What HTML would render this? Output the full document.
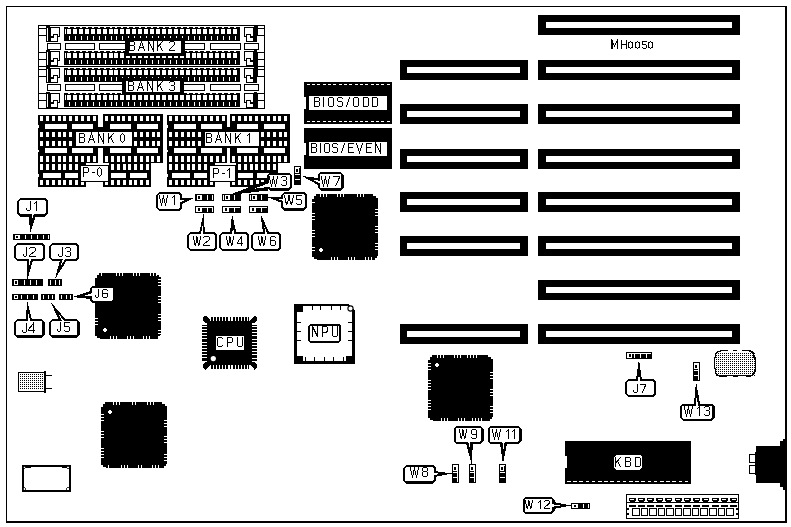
<!DOCTYPE html>
<html><head><meta charset="utf-8"><style>
html,body{margin:0;padding:0;background:#fff;overflow:hidden;}
svg{display:block;}
text{font-family:"Liberation Sans",sans-serif;}
</style></head><body>
<svg width="791" height="527" viewBox="0 0 791 527">
<rect x="0" y="0" width="791" height="527" fill="#fff"/>
<g shape-rendering="crispEdges">
<rect x="6" y="6" width="780" height="1" fill="#000"/>
<rect x="6" y="6" width="1" height="516" fill="#000"/>
<rect x="785" y="6" width="2" height="517" fill="#000"/>
<rect x="6" y="521" width="781" height="2" fill="#000"/>
<rect x="538" y="15" width="202" height="20" fill="#000"/>
<rect x="546" y="22" width="186" height="6" fill="#fff"/>
<rect x="538" y="60" width="202" height="20" fill="#000"/>
<rect x="546" y="67" width="186" height="6" fill="#fff"/>
<rect x="400" y="60" width="128" height="20" fill="#000"/>
<rect x="407" y="67" width="113" height="6" fill="#fff"/>
<rect x="538" y="104" width="202" height="20" fill="#000"/>
<rect x="546" y="111" width="186" height="6" fill="#fff"/>
<rect x="400" y="104" width="128" height="20" fill="#000"/>
<rect x="407" y="111" width="113" height="6" fill="#fff"/>
<rect x="538" y="149" width="202" height="20" fill="#000"/>
<rect x="546" y="156" width="186" height="6" fill="#fff"/>
<rect x="400" y="149" width="128" height="20" fill="#000"/>
<rect x="407" y="156" width="113" height="6" fill="#fff"/>
<rect x="538" y="192" width="202" height="20" fill="#000"/>
<rect x="546" y="199" width="186" height="6" fill="#fff"/>
<rect x="400" y="192" width="128" height="20" fill="#000"/>
<rect x="407" y="199" width="113" height="6" fill="#fff"/>
<rect x="538" y="236" width="202" height="20" fill="#000"/>
<rect x="546" y="243" width="186" height="6" fill="#fff"/>
<rect x="400" y="236" width="128" height="20" fill="#000"/>
<rect x="407" y="243" width="113" height="6" fill="#fff"/>
<rect x="538" y="280" width="202" height="20" fill="#000"/>
<rect x="546" y="287" width="186" height="6" fill="#fff"/>
<rect x="538" y="324" width="202" height="20" fill="#000"/>
<rect x="546" y="331" width="186" height="6" fill="#fff"/>
<rect x="400" y="324" width="128" height="20" fill="#000"/>
<rect x="407" y="331" width="113" height="6" fill="#fff"/>
<rect x="38" y="25" width="227" height="1" fill="#000"/>
<rect x="38" y="66" width="227" height="1" fill="#000"/>
<rect x="38" y="25" width="1" height="42" fill="#000"/>
<rect x="264" y="25" width="1" height="42" fill="#000"/>
<rect x="38" y="25" width="9" height="1" fill="#000"/>
<rect x="38" y="28" width="9" height="1" fill="#000"/>
<rect x="38" y="25" width="1" height="4" fill="#000"/>
<rect x="46" y="25" width="1" height="4" fill="#000"/>
<rect x="38" y="28" width="9" height="1" fill="#000"/>
<rect x="38" y="35" width="9" height="1" fill="#000"/>
<rect x="38" y="28" width="1" height="8" fill="#000"/>
<rect x="46" y="28" width="1" height="8" fill="#000"/>
<rect x="38" y="52" width="9" height="1" fill="#000"/>
<rect x="38" y="59" width="9" height="1" fill="#000"/>
<rect x="38" y="52" width="1" height="8" fill="#000"/>
<rect x="46" y="52" width="1" height="8" fill="#000"/>
<rect x="38" y="59" width="9" height="1" fill="#000"/>
<rect x="38" y="66" width="9" height="1" fill="#000"/>
<rect x="38" y="59" width="1" height="8" fill="#000"/>
<rect x="46" y="59" width="1" height="8" fill="#000"/>
<rect x="257" y="25" width="8" height="1" fill="#000"/>
<rect x="257" y="28" width="8" height="1" fill="#000"/>
<rect x="257" y="25" width="1" height="4" fill="#000"/>
<rect x="264" y="25" width="1" height="4" fill="#000"/>
<rect x="257" y="28" width="8" height="1" fill="#000"/>
<rect x="257" y="35" width="8" height="1" fill="#000"/>
<rect x="257" y="28" width="1" height="8" fill="#000"/>
<rect x="264" y="28" width="1" height="8" fill="#000"/>
<rect x="257" y="52" width="8" height="1" fill="#000"/>
<rect x="257" y="59" width="8" height="1" fill="#000"/>
<rect x="257" y="52" width="1" height="8" fill="#000"/>
<rect x="264" y="52" width="1" height="8" fill="#000"/>
<rect x="257" y="59" width="8" height="1" fill="#000"/>
<rect x="257" y="66" width="8" height="1" fill="#000"/>
<rect x="257" y="59" width="1" height="8" fill="#000"/>
<rect x="264" y="59" width="1" height="8" fill="#000"/>
<rect x="46" y="26" width="4" height="16" fill="#000"/>
<rect x="47" y="28" width="1" height="13" fill="#fff"/>
<rect x="50" y="27" width="10" height="1" fill="#000"/>
<rect x="50" y="36" width="10" height="1" fill="#000"/>
<rect x="50" y="27" width="1" height="10" fill="#000"/>
<rect x="59" y="27" width="1" height="10" fill="#000"/>
<path d="M50 37 H53 V34 H58 V42 H50 Z" fill="#000"/>
<path d="M51 38 H54 V35 H57 V41 H51 Z" fill="#fff"/>
<rect x="254" y="26" width="3" height="16" fill="#000"/>
<rect x="244" y="27" width="10" height="1" fill="#000"/>
<rect x="244" y="36" width="10" height="1" fill="#000"/>
<rect x="244" y="27" width="1" height="10" fill="#000"/>
<rect x="253" y="27" width="1" height="10" fill="#000"/>
<path d="M254 37 H251 V34 H246 V42 H254 Z" fill="#000"/>
<path d="M253 38 H250 V35 H247 V41 H253 Z" fill="#fff"/>
<rect x="64" y="27" width="176" height="14" fill="#000"/>
<rect x="65" y="29" width="1" height="5" fill="#fff"/>
<rect x="67" y="29" width="4" height="5" fill="#fff"/>
<rect x="69" y="36" width="1" height="4" fill="#fff"/>
<rect x="68" y="27" width="2" height="1" fill="#fff"/>
<rect x="73" y="29" width="4" height="5" fill="#fff"/>
<rect x="75" y="36" width="1" height="4" fill="#fff"/>
<rect x="74" y="27" width="2" height="1" fill="#fff"/>
<rect x="79" y="29" width="4" height="5" fill="#fff"/>
<rect x="81" y="36" width="1" height="4" fill="#fff"/>
<rect x="80" y="27" width="2" height="1" fill="#fff"/>
<rect x="85" y="29" width="4" height="5" fill="#fff"/>
<rect x="87" y="36" width="1" height="4" fill="#fff"/>
<rect x="86" y="27" width="2" height="1" fill="#fff"/>
<rect x="91" y="29" width="4" height="5" fill="#fff"/>
<rect x="93" y="36" width="1" height="4" fill="#fff"/>
<rect x="92" y="27" width="2" height="1" fill="#fff"/>
<rect x="97" y="29" width="4" height="5" fill="#fff"/>
<rect x="99" y="36" width="1" height="4" fill="#fff"/>
<rect x="98" y="27" width="2" height="1" fill="#fff"/>
<rect x="103" y="29" width="4" height="5" fill="#fff"/>
<rect x="105" y="36" width="1" height="4" fill="#fff"/>
<rect x="104" y="27" width="2" height="1" fill="#fff"/>
<rect x="109" y="29" width="4" height="5" fill="#fff"/>
<rect x="111" y="36" width="1" height="4" fill="#fff"/>
<rect x="110" y="27" width="2" height="1" fill="#fff"/>
<rect x="114" y="29" width="4" height="5" fill="#fff"/>
<rect x="116" y="36" width="1" height="4" fill="#fff"/>
<rect x="115" y="27" width="2" height="1" fill="#fff"/>
<rect x="120" y="29" width="4" height="5" fill="#fff"/>
<rect x="122" y="36" width="1" height="4" fill="#fff"/>
<rect x="121" y="27" width="2" height="1" fill="#fff"/>
<rect x="126" y="29" width="4" height="5" fill="#fff"/>
<rect x="128" y="36" width="1" height="4" fill="#fff"/>
<rect x="127" y="27" width="2" height="1" fill="#fff"/>
<rect x="132" y="29" width="4" height="5" fill="#fff"/>
<rect x="134" y="36" width="1" height="4" fill="#fff"/>
<rect x="133" y="27" width="2" height="1" fill="#fff"/>
<rect x="138" y="29" width="4" height="5" fill="#fff"/>
<rect x="140" y="36" width="1" height="4" fill="#fff"/>
<rect x="139" y="27" width="2" height="1" fill="#fff"/>
<rect x="144" y="29" width="4" height="5" fill="#fff"/>
<rect x="146" y="36" width="1" height="4" fill="#fff"/>
<rect x="145" y="27" width="2" height="1" fill="#fff"/>
<rect x="150" y="29" width="4" height="5" fill="#fff"/>
<rect x="152" y="36" width="1" height="4" fill="#fff"/>
<rect x="151" y="27" width="2" height="1" fill="#fff"/>
<rect x="156" y="29" width="4" height="5" fill="#fff"/>
<rect x="158" y="36" width="1" height="4" fill="#fff"/>
<rect x="157" y="27" width="2" height="1" fill="#fff"/>
<rect x="162" y="29" width="4" height="5" fill="#fff"/>
<rect x="164" y="36" width="1" height="4" fill="#fff"/>
<rect x="163" y="27" width="2" height="1" fill="#fff"/>
<rect x="168" y="29" width="4" height="5" fill="#fff"/>
<rect x="170" y="36" width="1" height="4" fill="#fff"/>
<rect x="169" y="27" width="2" height="1" fill="#fff"/>
<rect x="174" y="29" width="4" height="5" fill="#fff"/>
<rect x="176" y="36" width="1" height="4" fill="#fff"/>
<rect x="175" y="27" width="2" height="1" fill="#fff"/>
<rect x="180" y="29" width="4" height="5" fill="#fff"/>
<rect x="182" y="36" width="1" height="4" fill="#fff"/>
<rect x="181" y="27" width="2" height="1" fill="#fff"/>
<rect x="186" y="29" width="4" height="5" fill="#fff"/>
<rect x="188" y="36" width="1" height="4" fill="#fff"/>
<rect x="187" y="27" width="2" height="1" fill="#fff"/>
<rect x="192" y="29" width="4" height="5" fill="#fff"/>
<rect x="194" y="36" width="1" height="4" fill="#fff"/>
<rect x="193" y="27" width="2" height="1" fill="#fff"/>
<rect x="197" y="29" width="4" height="5" fill="#fff"/>
<rect x="199" y="36" width="1" height="4" fill="#fff"/>
<rect x="198" y="27" width="2" height="1" fill="#fff"/>
<rect x="203" y="29" width="4" height="5" fill="#fff"/>
<rect x="205" y="36" width="1" height="4" fill="#fff"/>
<rect x="204" y="27" width="2" height="1" fill="#fff"/>
<rect x="209" y="29" width="4" height="5" fill="#fff"/>
<rect x="211" y="36" width="1" height="4" fill="#fff"/>
<rect x="210" y="27" width="2" height="1" fill="#fff"/>
<rect x="215" y="29" width="4" height="5" fill="#fff"/>
<rect x="217" y="36" width="1" height="4" fill="#fff"/>
<rect x="216" y="27" width="2" height="1" fill="#fff"/>
<rect x="221" y="29" width="4" height="5" fill="#fff"/>
<rect x="223" y="36" width="1" height="4" fill="#fff"/>
<rect x="222" y="27" width="2" height="1" fill="#fff"/>
<rect x="227" y="29" width="4" height="5" fill="#fff"/>
<rect x="229" y="36" width="1" height="4" fill="#fff"/>
<rect x="228" y="27" width="2" height="1" fill="#fff"/>
<rect x="233" y="29" width="4" height="5" fill="#fff"/>
<rect x="235" y="36" width="1" height="4" fill="#fff"/>
<rect x="234" y="27" width="2" height="1" fill="#fff"/>
<rect x="46" y="50" width="4" height="16" fill="#000"/>
<rect x="47" y="52" width="1" height="13" fill="#fff"/>
<rect x="50" y="51" width="10" height="1" fill="#000"/>
<rect x="50" y="60" width="10" height="1" fill="#000"/>
<rect x="50" y="51" width="1" height="10" fill="#000"/>
<rect x="59" y="51" width="1" height="10" fill="#000"/>
<path d="M50 61 H53 V58 H58 V66 H50 Z" fill="#000"/>
<path d="M51 62 H54 V59 H57 V65 H51 Z" fill="#fff"/>
<rect x="254" y="50" width="3" height="16" fill="#000"/>
<rect x="244" y="51" width="10" height="1" fill="#000"/>
<rect x="244" y="60" width="10" height="1" fill="#000"/>
<rect x="244" y="51" width="1" height="10" fill="#000"/>
<rect x="253" y="51" width="1" height="10" fill="#000"/>
<path d="M254 61 H251 V58 H246 V66 H254 Z" fill="#000"/>
<path d="M253 62 H250 V59 H247 V65 H253 Z" fill="#fff"/>
<rect x="64" y="51" width="176" height="14" fill="#000"/>
<rect x="65" y="53" width="1" height="5" fill="#fff"/>
<rect x="67" y="53" width="4" height="5" fill="#fff"/>
<rect x="69" y="60" width="1" height="4" fill="#fff"/>
<rect x="68" y="51" width="2" height="1" fill="#fff"/>
<rect x="73" y="53" width="4" height="5" fill="#fff"/>
<rect x="75" y="60" width="1" height="4" fill="#fff"/>
<rect x="74" y="51" width="2" height="1" fill="#fff"/>
<rect x="79" y="53" width="4" height="5" fill="#fff"/>
<rect x="81" y="60" width="1" height="4" fill="#fff"/>
<rect x="80" y="51" width="2" height="1" fill="#fff"/>
<rect x="85" y="53" width="4" height="5" fill="#fff"/>
<rect x="87" y="60" width="1" height="4" fill="#fff"/>
<rect x="86" y="51" width="2" height="1" fill="#fff"/>
<rect x="91" y="53" width="4" height="5" fill="#fff"/>
<rect x="93" y="60" width="1" height="4" fill="#fff"/>
<rect x="92" y="51" width="2" height="1" fill="#fff"/>
<rect x="97" y="53" width="4" height="5" fill="#fff"/>
<rect x="99" y="60" width="1" height="4" fill="#fff"/>
<rect x="98" y="51" width="2" height="1" fill="#fff"/>
<rect x="103" y="53" width="4" height="5" fill="#fff"/>
<rect x="105" y="60" width="1" height="4" fill="#fff"/>
<rect x="104" y="51" width="2" height="1" fill="#fff"/>
<rect x="109" y="53" width="4" height="5" fill="#fff"/>
<rect x="111" y="60" width="1" height="4" fill="#fff"/>
<rect x="110" y="51" width="2" height="1" fill="#fff"/>
<rect x="114" y="53" width="4" height="5" fill="#fff"/>
<rect x="116" y="60" width="1" height="4" fill="#fff"/>
<rect x="115" y="51" width="2" height="1" fill="#fff"/>
<rect x="120" y="53" width="4" height="5" fill="#fff"/>
<rect x="122" y="60" width="1" height="4" fill="#fff"/>
<rect x="121" y="51" width="2" height="1" fill="#fff"/>
<rect x="126" y="53" width="4" height="5" fill="#fff"/>
<rect x="128" y="60" width="1" height="4" fill="#fff"/>
<rect x="127" y="51" width="2" height="1" fill="#fff"/>
<rect x="132" y="53" width="4" height="5" fill="#fff"/>
<rect x="134" y="60" width="1" height="4" fill="#fff"/>
<rect x="133" y="51" width="2" height="1" fill="#fff"/>
<rect x="138" y="53" width="4" height="5" fill="#fff"/>
<rect x="140" y="60" width="1" height="4" fill="#fff"/>
<rect x="139" y="51" width="2" height="1" fill="#fff"/>
<rect x="144" y="53" width="4" height="5" fill="#fff"/>
<rect x="146" y="60" width="1" height="4" fill="#fff"/>
<rect x="145" y="51" width="2" height="1" fill="#fff"/>
<rect x="150" y="53" width="4" height="5" fill="#fff"/>
<rect x="152" y="60" width="1" height="4" fill="#fff"/>
<rect x="151" y="51" width="2" height="1" fill="#fff"/>
<rect x="156" y="53" width="4" height="5" fill="#fff"/>
<rect x="158" y="60" width="1" height="4" fill="#fff"/>
<rect x="157" y="51" width="2" height="1" fill="#fff"/>
<rect x="162" y="53" width="4" height="5" fill="#fff"/>
<rect x="164" y="60" width="1" height="4" fill="#fff"/>
<rect x="163" y="51" width="2" height="1" fill="#fff"/>
<rect x="168" y="53" width="4" height="5" fill="#fff"/>
<rect x="170" y="60" width="1" height="4" fill="#fff"/>
<rect x="169" y="51" width="2" height="1" fill="#fff"/>
<rect x="174" y="53" width="4" height="5" fill="#fff"/>
<rect x="176" y="60" width="1" height="4" fill="#fff"/>
<rect x="175" y="51" width="2" height="1" fill="#fff"/>
<rect x="180" y="53" width="4" height="5" fill="#fff"/>
<rect x="182" y="60" width="1" height="4" fill="#fff"/>
<rect x="181" y="51" width="2" height="1" fill="#fff"/>
<rect x="186" y="53" width="4" height="5" fill="#fff"/>
<rect x="188" y="60" width="1" height="4" fill="#fff"/>
<rect x="187" y="51" width="2" height="1" fill="#fff"/>
<rect x="192" y="53" width="4" height="5" fill="#fff"/>
<rect x="194" y="60" width="1" height="4" fill="#fff"/>
<rect x="193" y="51" width="2" height="1" fill="#fff"/>
<rect x="197" y="53" width="4" height="5" fill="#fff"/>
<rect x="199" y="60" width="1" height="4" fill="#fff"/>
<rect x="198" y="51" width="2" height="1" fill="#fff"/>
<rect x="203" y="53" width="4" height="5" fill="#fff"/>
<rect x="205" y="60" width="1" height="4" fill="#fff"/>
<rect x="204" y="51" width="2" height="1" fill="#fff"/>
<rect x="209" y="53" width="4" height="5" fill="#fff"/>
<rect x="211" y="60" width="1" height="4" fill="#fff"/>
<rect x="210" y="51" width="2" height="1" fill="#fff"/>
<rect x="215" y="53" width="4" height="5" fill="#fff"/>
<rect x="217" y="60" width="1" height="4" fill="#fff"/>
<rect x="216" y="51" width="2" height="1" fill="#fff"/>
<rect x="221" y="53" width="4" height="5" fill="#fff"/>
<rect x="223" y="60" width="1" height="4" fill="#fff"/>
<rect x="222" y="51" width="2" height="1" fill="#fff"/>
<rect x="227" y="53" width="4" height="5" fill="#fff"/>
<rect x="229" y="60" width="1" height="4" fill="#fff"/>
<rect x="228" y="51" width="2" height="1" fill="#fff"/>
<rect x="233" y="53" width="4" height="5" fill="#fff"/>
<rect x="235" y="60" width="1" height="4" fill="#fff"/>
<rect x="234" y="51" width="2" height="1" fill="#fff"/>
<rect x="47" y="43" width="14" height="1" fill="#000"/>
<rect x="47" y="49" width="14" height="1" fill="#000"/>
<rect x="47" y="43" width="1" height="7" fill="#000"/>
<rect x="60" y="43" width="1" height="7" fill="#000"/>
<rect x="64.5" y="43" width="30.5" height="1" fill="#000"/>
<rect x="64.5" y="49" width="30.5" height="1" fill="#000"/>
<rect x="64.5" y="43" width="1" height="7" fill="#000"/>
<rect x="94" y="43" width="1" height="7" fill="#000"/>
<rect x="99" y="43" width="31" height="1" fill="#000"/>
<rect x="99" y="49" width="31" height="1" fill="#000"/>
<rect x="99" y="43" width="1" height="7" fill="#000"/>
<rect x="129" y="43" width="1" height="7" fill="#000"/>
<rect x="135" y="43" width="31" height="1" fill="#000"/>
<rect x="135" y="49" width="31" height="1" fill="#000"/>
<rect x="135" y="43" width="1" height="7" fill="#000"/>
<rect x="165" y="43" width="1" height="7" fill="#000"/>
<rect x="171" y="43" width="33.5" height="1" fill="#000"/>
<rect x="171" y="49" width="33.5" height="1" fill="#000"/>
<rect x="171" y="43" width="1" height="7" fill="#000"/>
<rect x="203.5" y="43" width="1" height="7" fill="#000"/>
<rect x="210" y="43" width="31" height="1" fill="#000"/>
<rect x="210" y="49" width="31" height="1" fill="#000"/>
<rect x="210" y="43" width="1" height="7" fill="#000"/>
<rect x="240" y="43" width="1" height="7" fill="#000"/>
<rect x="244" y="43" width="15" height="1" fill="#000"/>
<rect x="244" y="49" width="15" height="1" fill="#000"/>
<rect x="244" y="43" width="1" height="7" fill="#000"/>
<rect x="258" y="43" width="1" height="7" fill="#000"/>
<rect x="124.5" y="37.5" width="60" height="18" fill="#000"/>
<path d="M128.5 38.5 H180.5 L182.5 40.5 V52.5 L180.5 54.5 H128.5 L126.5 52.5 V40.5 Z" fill="#000"/>
<path d="M128.5 40.5 H180.5 V52.5 H128.5 Z" fill="#fff"/>
<rect x="38" y="66" width="227" height="1" fill="#000"/>
<rect x="38" y="108" width="227" height="1" fill="#000"/>
<rect x="38" y="66" width="1" height="43" fill="#000"/>
<rect x="264" y="66" width="1" height="43" fill="#000"/>
<rect x="38" y="66" width="9" height="1" fill="#000"/>
<rect x="38" y="69" width="9" height="1" fill="#000"/>
<rect x="38" y="66" width="1" height="4" fill="#000"/>
<rect x="46" y="66" width="1" height="4" fill="#000"/>
<rect x="38" y="69" width="9" height="1" fill="#000"/>
<rect x="38" y="76" width="9" height="1" fill="#000"/>
<rect x="38" y="69" width="1" height="8" fill="#000"/>
<rect x="46" y="69" width="1" height="8" fill="#000"/>
<rect x="38" y="93" width="9" height="1" fill="#000"/>
<rect x="38" y="100" width="9" height="1" fill="#000"/>
<rect x="38" y="93" width="1" height="8" fill="#000"/>
<rect x="46" y="93" width="1" height="8" fill="#000"/>
<rect x="38" y="100" width="9" height="1" fill="#000"/>
<rect x="38" y="108" width="9" height="1" fill="#000"/>
<rect x="38" y="100" width="1" height="9" fill="#000"/>
<rect x="46" y="100" width="1" height="9" fill="#000"/>
<rect x="257" y="66" width="8" height="1" fill="#000"/>
<rect x="257" y="69" width="8" height="1" fill="#000"/>
<rect x="257" y="66" width="1" height="4" fill="#000"/>
<rect x="264" y="66" width="1" height="4" fill="#000"/>
<rect x="257" y="69" width="8" height="1" fill="#000"/>
<rect x="257" y="76" width="8" height="1" fill="#000"/>
<rect x="257" y="69" width="1" height="8" fill="#000"/>
<rect x="264" y="69" width="1" height="8" fill="#000"/>
<rect x="257" y="93" width="8" height="1" fill="#000"/>
<rect x="257" y="100" width="8" height="1" fill="#000"/>
<rect x="257" y="93" width="1" height="8" fill="#000"/>
<rect x="264" y="93" width="1" height="8" fill="#000"/>
<rect x="257" y="100" width="8" height="1" fill="#000"/>
<rect x="257" y="108" width="8" height="1" fill="#000"/>
<rect x="257" y="100" width="1" height="9" fill="#000"/>
<rect x="264" y="100" width="1" height="9" fill="#000"/>
<rect x="46" y="67" width="4" height="16" fill="#000"/>
<rect x="47" y="69" width="1" height="13" fill="#fff"/>
<rect x="50" y="68" width="10" height="1" fill="#000"/>
<rect x="50" y="77" width="10" height="1" fill="#000"/>
<rect x="50" y="68" width="1" height="10" fill="#000"/>
<rect x="59" y="68" width="1" height="10" fill="#000"/>
<path d="M50 78 H53 V75 H58 V83 H50 Z" fill="#000"/>
<path d="M51 79 H54 V76 H57 V82 H51 Z" fill="#fff"/>
<rect x="254" y="67" width="3" height="16" fill="#000"/>
<rect x="244" y="68" width="10" height="1" fill="#000"/>
<rect x="244" y="77" width="10" height="1" fill="#000"/>
<rect x="244" y="68" width="1" height="10" fill="#000"/>
<rect x="253" y="68" width="1" height="10" fill="#000"/>
<path d="M254 78 H251 V75 H246 V83 H254 Z" fill="#000"/>
<path d="M253 79 H250 V76 H247 V82 H253 Z" fill="#fff"/>
<rect x="64" y="68" width="176" height="14" fill="#000"/>
<rect x="65" y="70" width="1" height="5" fill="#fff"/>
<rect x="67" y="70" width="4" height="5" fill="#fff"/>
<rect x="69" y="77" width="1" height="4" fill="#fff"/>
<rect x="68" y="68" width="2" height="1" fill="#fff"/>
<rect x="73" y="70" width="4" height="5" fill="#fff"/>
<rect x="75" y="77" width="1" height="4" fill="#fff"/>
<rect x="74" y="68" width="2" height="1" fill="#fff"/>
<rect x="79" y="70" width="4" height="5" fill="#fff"/>
<rect x="81" y="77" width="1" height="4" fill="#fff"/>
<rect x="80" y="68" width="2" height="1" fill="#fff"/>
<rect x="85" y="70" width="4" height="5" fill="#fff"/>
<rect x="87" y="77" width="1" height="4" fill="#fff"/>
<rect x="86" y="68" width="2" height="1" fill="#fff"/>
<rect x="91" y="70" width="4" height="5" fill="#fff"/>
<rect x="93" y="77" width="1" height="4" fill="#fff"/>
<rect x="92" y="68" width="2" height="1" fill="#fff"/>
<rect x="97" y="70" width="4" height="5" fill="#fff"/>
<rect x="99" y="77" width="1" height="4" fill="#fff"/>
<rect x="98" y="68" width="2" height="1" fill="#fff"/>
<rect x="103" y="70" width="4" height="5" fill="#fff"/>
<rect x="105" y="77" width="1" height="4" fill="#fff"/>
<rect x="104" y="68" width="2" height="1" fill="#fff"/>
<rect x="109" y="70" width="4" height="5" fill="#fff"/>
<rect x="111" y="77" width="1" height="4" fill="#fff"/>
<rect x="110" y="68" width="2" height="1" fill="#fff"/>
<rect x="114" y="70" width="4" height="5" fill="#fff"/>
<rect x="116" y="77" width="1" height="4" fill="#fff"/>
<rect x="115" y="68" width="2" height="1" fill="#fff"/>
<rect x="120" y="70" width="4" height="5" fill="#fff"/>
<rect x="122" y="77" width="1" height="4" fill="#fff"/>
<rect x="121" y="68" width="2" height="1" fill="#fff"/>
<rect x="126" y="70" width="4" height="5" fill="#fff"/>
<rect x="128" y="77" width="1" height="4" fill="#fff"/>
<rect x="127" y="68" width="2" height="1" fill="#fff"/>
<rect x="132" y="70" width="4" height="5" fill="#fff"/>
<rect x="134" y="77" width="1" height="4" fill="#fff"/>
<rect x="133" y="68" width="2" height="1" fill="#fff"/>
<rect x="138" y="70" width="4" height="5" fill="#fff"/>
<rect x="140" y="77" width="1" height="4" fill="#fff"/>
<rect x="139" y="68" width="2" height="1" fill="#fff"/>
<rect x="144" y="70" width="4" height="5" fill="#fff"/>
<rect x="146" y="77" width="1" height="4" fill="#fff"/>
<rect x="145" y="68" width="2" height="1" fill="#fff"/>
<rect x="150" y="70" width="4" height="5" fill="#fff"/>
<rect x="152" y="77" width="1" height="4" fill="#fff"/>
<rect x="151" y="68" width="2" height="1" fill="#fff"/>
<rect x="156" y="70" width="4" height="5" fill="#fff"/>
<rect x="158" y="77" width="1" height="4" fill="#fff"/>
<rect x="157" y="68" width="2" height="1" fill="#fff"/>
<rect x="162" y="70" width="4" height="5" fill="#fff"/>
<rect x="164" y="77" width="1" height="4" fill="#fff"/>
<rect x="163" y="68" width="2" height="1" fill="#fff"/>
<rect x="168" y="70" width="4" height="5" fill="#fff"/>
<rect x="170" y="77" width="1" height="4" fill="#fff"/>
<rect x="169" y="68" width="2" height="1" fill="#fff"/>
<rect x="174" y="70" width="4" height="5" fill="#fff"/>
<rect x="176" y="77" width="1" height="4" fill="#fff"/>
<rect x="175" y="68" width="2" height="1" fill="#fff"/>
<rect x="180" y="70" width="4" height="5" fill="#fff"/>
<rect x="182" y="77" width="1" height="4" fill="#fff"/>
<rect x="181" y="68" width="2" height="1" fill="#fff"/>
<rect x="186" y="70" width="4" height="5" fill="#fff"/>
<rect x="188" y="77" width="1" height="4" fill="#fff"/>
<rect x="187" y="68" width="2" height="1" fill="#fff"/>
<rect x="192" y="70" width="4" height="5" fill="#fff"/>
<rect x="194" y="77" width="1" height="4" fill="#fff"/>
<rect x="193" y="68" width="2" height="1" fill="#fff"/>
<rect x="197" y="70" width="4" height="5" fill="#fff"/>
<rect x="199" y="77" width="1" height="4" fill="#fff"/>
<rect x="198" y="68" width="2" height="1" fill="#fff"/>
<rect x="203" y="70" width="4" height="5" fill="#fff"/>
<rect x="205" y="77" width="1" height="4" fill="#fff"/>
<rect x="204" y="68" width="2" height="1" fill="#fff"/>
<rect x="209" y="70" width="4" height="5" fill="#fff"/>
<rect x="211" y="77" width="1" height="4" fill="#fff"/>
<rect x="210" y="68" width="2" height="1" fill="#fff"/>
<rect x="215" y="70" width="4" height="5" fill="#fff"/>
<rect x="217" y="77" width="1" height="4" fill="#fff"/>
<rect x="216" y="68" width="2" height="1" fill="#fff"/>
<rect x="221" y="70" width="4" height="5" fill="#fff"/>
<rect x="223" y="77" width="1" height="4" fill="#fff"/>
<rect x="222" y="68" width="2" height="1" fill="#fff"/>
<rect x="227" y="70" width="4" height="5" fill="#fff"/>
<rect x="229" y="77" width="1" height="4" fill="#fff"/>
<rect x="228" y="68" width="2" height="1" fill="#fff"/>
<rect x="233" y="70" width="4" height="5" fill="#fff"/>
<rect x="235" y="77" width="1" height="4" fill="#fff"/>
<rect x="234" y="68" width="2" height="1" fill="#fff"/>
<rect x="46" y="92" width="4" height="16" fill="#000"/>
<rect x="47" y="94" width="1" height="13" fill="#fff"/>
<rect x="50" y="93" width="10" height="1" fill="#000"/>
<rect x="50" y="102" width="10" height="1" fill="#000"/>
<rect x="50" y="93" width="1" height="10" fill="#000"/>
<rect x="59" y="93" width="1" height="10" fill="#000"/>
<path d="M50 103 H53 V100 H58 V108 H50 Z" fill="#000"/>
<path d="M51 104 H54 V101 H57 V107 H51 Z" fill="#fff"/>
<rect x="254" y="92" width="3" height="16" fill="#000"/>
<rect x="244" y="93" width="10" height="1" fill="#000"/>
<rect x="244" y="102" width="10" height="1" fill="#000"/>
<rect x="244" y="93" width="1" height="10" fill="#000"/>
<rect x="253" y="93" width="1" height="10" fill="#000"/>
<path d="M254 103 H251 V100 H246 V108 H254 Z" fill="#000"/>
<path d="M253 104 H250 V101 H247 V107 H253 Z" fill="#fff"/>
<rect x="64" y="93" width="176" height="14" fill="#000"/>
<rect x="65" y="95" width="1" height="5" fill="#fff"/>
<rect x="67" y="95" width="4" height="5" fill="#fff"/>
<rect x="69" y="102" width="1" height="4" fill="#fff"/>
<rect x="68" y="93" width="2" height="1" fill="#fff"/>
<rect x="73" y="95" width="4" height="5" fill="#fff"/>
<rect x="75" y="102" width="1" height="4" fill="#fff"/>
<rect x="74" y="93" width="2" height="1" fill="#fff"/>
<rect x="79" y="95" width="4" height="5" fill="#fff"/>
<rect x="81" y="102" width="1" height="4" fill="#fff"/>
<rect x="80" y="93" width="2" height="1" fill="#fff"/>
<rect x="85" y="95" width="4" height="5" fill="#fff"/>
<rect x="87" y="102" width="1" height="4" fill="#fff"/>
<rect x="86" y="93" width="2" height="1" fill="#fff"/>
<rect x="91" y="95" width="4" height="5" fill="#fff"/>
<rect x="93" y="102" width="1" height="4" fill="#fff"/>
<rect x="92" y="93" width="2" height="1" fill="#fff"/>
<rect x="97" y="95" width="4" height="5" fill="#fff"/>
<rect x="99" y="102" width="1" height="4" fill="#fff"/>
<rect x="98" y="93" width="2" height="1" fill="#fff"/>
<rect x="103" y="95" width="4" height="5" fill="#fff"/>
<rect x="105" y="102" width="1" height="4" fill="#fff"/>
<rect x="104" y="93" width="2" height="1" fill="#fff"/>
<rect x="109" y="95" width="4" height="5" fill="#fff"/>
<rect x="111" y="102" width="1" height="4" fill="#fff"/>
<rect x="110" y="93" width="2" height="1" fill="#fff"/>
<rect x="114" y="95" width="4" height="5" fill="#fff"/>
<rect x="116" y="102" width="1" height="4" fill="#fff"/>
<rect x="115" y="93" width="2" height="1" fill="#fff"/>
<rect x="120" y="95" width="4" height="5" fill="#fff"/>
<rect x="122" y="102" width="1" height="4" fill="#fff"/>
<rect x="121" y="93" width="2" height="1" fill="#fff"/>
<rect x="126" y="95" width="4" height="5" fill="#fff"/>
<rect x="128" y="102" width="1" height="4" fill="#fff"/>
<rect x="127" y="93" width="2" height="1" fill="#fff"/>
<rect x="132" y="95" width="4" height="5" fill="#fff"/>
<rect x="134" y="102" width="1" height="4" fill="#fff"/>
<rect x="133" y="93" width="2" height="1" fill="#fff"/>
<rect x="138" y="95" width="4" height="5" fill="#fff"/>
<rect x="140" y="102" width="1" height="4" fill="#fff"/>
<rect x="139" y="93" width="2" height="1" fill="#fff"/>
<rect x="144" y="95" width="4" height="5" fill="#fff"/>
<rect x="146" y="102" width="1" height="4" fill="#fff"/>
<rect x="145" y="93" width="2" height="1" fill="#fff"/>
<rect x="150" y="95" width="4" height="5" fill="#fff"/>
<rect x="152" y="102" width="1" height="4" fill="#fff"/>
<rect x="151" y="93" width="2" height="1" fill="#fff"/>
<rect x="156" y="95" width="4" height="5" fill="#fff"/>
<rect x="158" y="102" width="1" height="4" fill="#fff"/>
<rect x="157" y="93" width="2" height="1" fill="#fff"/>
<rect x="162" y="95" width="4" height="5" fill="#fff"/>
<rect x="164" y="102" width="1" height="4" fill="#fff"/>
<rect x="163" y="93" width="2" height="1" fill="#fff"/>
<rect x="168" y="95" width="4" height="5" fill="#fff"/>
<rect x="170" y="102" width="1" height="4" fill="#fff"/>
<rect x="169" y="93" width="2" height="1" fill="#fff"/>
<rect x="174" y="95" width="4" height="5" fill="#fff"/>
<rect x="176" y="102" width="1" height="4" fill="#fff"/>
<rect x="175" y="93" width="2" height="1" fill="#fff"/>
<rect x="180" y="95" width="4" height="5" fill="#fff"/>
<rect x="182" y="102" width="1" height="4" fill="#fff"/>
<rect x="181" y="93" width="2" height="1" fill="#fff"/>
<rect x="186" y="95" width="4" height="5" fill="#fff"/>
<rect x="188" y="102" width="1" height="4" fill="#fff"/>
<rect x="187" y="93" width="2" height="1" fill="#fff"/>
<rect x="192" y="95" width="4" height="5" fill="#fff"/>
<rect x="194" y="102" width="1" height="4" fill="#fff"/>
<rect x="193" y="93" width="2" height="1" fill="#fff"/>
<rect x="197" y="95" width="4" height="5" fill="#fff"/>
<rect x="199" y="102" width="1" height="4" fill="#fff"/>
<rect x="198" y="93" width="2" height="1" fill="#fff"/>
<rect x="203" y="95" width="4" height="5" fill="#fff"/>
<rect x="205" y="102" width="1" height="4" fill="#fff"/>
<rect x="204" y="93" width="2" height="1" fill="#fff"/>
<rect x="209" y="95" width="4" height="5" fill="#fff"/>
<rect x="211" y="102" width="1" height="4" fill="#fff"/>
<rect x="210" y="93" width="2" height="1" fill="#fff"/>
<rect x="215" y="95" width="4" height="5" fill="#fff"/>
<rect x="217" y="102" width="1" height="4" fill="#fff"/>
<rect x="216" y="93" width="2" height="1" fill="#fff"/>
<rect x="221" y="95" width="4" height="5" fill="#fff"/>
<rect x="223" y="102" width="1" height="4" fill="#fff"/>
<rect x="222" y="93" width="2" height="1" fill="#fff"/>
<rect x="227" y="95" width="4" height="5" fill="#fff"/>
<rect x="229" y="102" width="1" height="4" fill="#fff"/>
<rect x="228" y="93" width="2" height="1" fill="#fff"/>
<rect x="233" y="95" width="4" height="5" fill="#fff"/>
<rect x="235" y="102" width="1" height="4" fill="#fff"/>
<rect x="234" y="93" width="2" height="1" fill="#fff"/>
<rect x="47" y="84" width="14" height="1" fill="#000"/>
<rect x="47" y="90" width="14" height="1" fill="#000"/>
<rect x="47" y="84" width="1" height="7" fill="#000"/>
<rect x="60" y="84" width="1" height="7" fill="#000"/>
<rect x="64.5" y="84" width="30.5" height="1" fill="#000"/>
<rect x="64.5" y="90" width="30.5" height="1" fill="#000"/>
<rect x="64.5" y="84" width="1" height="7" fill="#000"/>
<rect x="94" y="84" width="1" height="7" fill="#000"/>
<rect x="99" y="84" width="31" height="1" fill="#000"/>
<rect x="99" y="90" width="31" height="1" fill="#000"/>
<rect x="99" y="84" width="1" height="7" fill="#000"/>
<rect x="129" y="84" width="1" height="7" fill="#000"/>
<rect x="135" y="84" width="31" height="1" fill="#000"/>
<rect x="135" y="90" width="31" height="1" fill="#000"/>
<rect x="135" y="84" width="1" height="7" fill="#000"/>
<rect x="165" y="84" width="1" height="7" fill="#000"/>
<rect x="171" y="84" width="33.5" height="1" fill="#000"/>
<rect x="171" y="90" width="33.5" height="1" fill="#000"/>
<rect x="171" y="84" width="1" height="7" fill="#000"/>
<rect x="203.5" y="84" width="1" height="7" fill="#000"/>
<rect x="210" y="84" width="31" height="1" fill="#000"/>
<rect x="210" y="90" width="31" height="1" fill="#000"/>
<rect x="210" y="84" width="1" height="7" fill="#000"/>
<rect x="240" y="84" width="1" height="7" fill="#000"/>
<rect x="244" y="84" width="15" height="1" fill="#000"/>
<rect x="244" y="90" width="15" height="1" fill="#000"/>
<rect x="244" y="84" width="1" height="7" fill="#000"/>
<rect x="258" y="84" width="1" height="7" fill="#000"/>
<rect x="122" y="78.3" width="62.2" height="17" fill="#000"/>
<path d="M126 79.3 H180.2 L182.2 81.3 V92.3 L180.2 94.3 H126 L124 92.3 V81.3 Z" fill="#000"/>
<path d="M126 81.3 H180.2 V92.3 H126 Z" fill="#fff"/>
<path d="M38 115 H98 V127 H103 V114 H163 V163 H103 V148 H98 V163 H38 Z" fill="#000"/>
<rect x="38" y="163" width="48" height="24" fill="#000"/>
<rect x="103" y="163" width="48" height="24" fill="#000"/>
<rect x="98" y="149" width="3" height="3" fill="#fff"/>
<rect x="40" y="116" width="3" height="5" fill="#fff"/>
<rect x="105" y="115.5" width="3" height="5.5" fill="#fff"/>
<rect x="45.85" y="116" width="3" height="5" fill="#fff"/>
<rect x="110.8" y="115.5" width="3" height="5.5" fill="#fff"/>
<rect x="51.7" y="116" width="3" height="5" fill="#fff"/>
<rect x="116.6" y="115.5" width="3" height="5.5" fill="#fff"/>
<rect x="57.55" y="116" width="3" height="5" fill="#fff"/>
<rect x="122.4" y="115.5" width="3" height="5.5" fill="#fff"/>
<rect x="63.4" y="116" width="3" height="5" fill="#fff"/>
<rect x="128.2" y="115.5" width="3" height="5.5" fill="#fff"/>
<rect x="69.25" y="116" width="3" height="5" fill="#fff"/>
<rect x="134" y="115.5" width="3" height="5.5" fill="#fff"/>
<rect x="75.1" y="116" width="3" height="5" fill="#fff"/>
<rect x="139.8" y="115.5" width="3" height="5.5" fill="#fff"/>
<rect x="80.95" y="116" width="3" height="5" fill="#fff"/>
<rect x="145.6" y="115.5" width="3" height="5.5" fill="#fff"/>
<rect x="86.8" y="116" width="3" height="5" fill="#fff"/>
<rect x="151.4" y="115.5" width="3" height="5.5" fill="#fff"/>
<rect x="92.65" y="116" width="3" height="5" fill="#fff"/>
<rect x="157.2" y="115.5" width="3" height="5.5" fill="#fff"/>
<rect x="45" y="124" width="22" height="5" fill="#fff"/>
<rect x="72" y="124" width="21" height="5" fill="#fff"/>
<rect x="110" y="124" width="21" height="5" fill="#fff"/>
<rect x="137" y="124" width="21" height="5" fill="#fff"/>
<rect x="40" y="132" width="3" height="5" fill="#fff"/>
<rect x="40" y="141" width="3" height="4.5" fill="#fff"/>
<rect x="45.85" y="132" width="3" height="5" fill="#fff"/>
<rect x="45.85" y="141" width="3" height="4.5" fill="#fff"/>
<rect x="51.7" y="132" width="3" height="5" fill="#fff"/>
<rect x="51.7" y="141" width="3" height="4.5" fill="#fff"/>
<rect x="57.55" y="132" width="3" height="5" fill="#fff"/>
<rect x="57.55" y="141" width="3" height="4.5" fill="#fff"/>
<rect x="63.4" y="132" width="3" height="5" fill="#fff"/>
<rect x="63.4" y="141" width="3" height="4.5" fill="#fff"/>
<rect x="69.25" y="132" width="3" height="5" fill="#fff"/>
<rect x="69.25" y="141" width="3" height="4.5" fill="#fff"/>
<rect x="134" y="132" width="3" height="5" fill="#fff"/>
<rect x="134" y="141" width="3" height="4.5" fill="#fff"/>
<rect x="139.85" y="132" width="3" height="5" fill="#fff"/>
<rect x="139.85" y="141" width="3" height="4.5" fill="#fff"/>
<rect x="145.7" y="132" width="3" height="5" fill="#fff"/>
<rect x="145.7" y="141" width="3" height="4.5" fill="#fff"/>
<rect x="151.55" y="132" width="3" height="5" fill="#fff"/>
<rect x="151.55" y="141" width="3" height="4.5" fill="#fff"/>
<rect x="157.4" y="132" width="3" height="5" fill="#fff"/>
<rect x="157.4" y="141" width="3" height="4.5" fill="#fff"/>
<rect x="45" y="148" width="22" height="5" fill="#fff"/>
<rect x="72" y="148" width="21" height="5" fill="#fff"/>
<rect x="110" y="148" width="21" height="5" fill="#fff"/>
<rect x="137" y="148" width="21" height="5" fill="#fff"/>
<rect x="40" y="156" width="3" height="6" fill="#fff"/>
<rect x="105" y="156" width="3" height="6" fill="#fff"/>
<rect x="45.85" y="156" width="3" height="6" fill="#fff"/>
<rect x="110.8" y="156" width="3" height="6" fill="#fff"/>
<rect x="51.7" y="156" width="3" height="6" fill="#fff"/>
<rect x="116.6" y="156" width="3" height="6" fill="#fff"/>
<rect x="57.55" y="156" width="3" height="6" fill="#fff"/>
<rect x="122.4" y="156" width="3" height="6" fill="#fff"/>
<rect x="63.4" y="156" width="3" height="6" fill="#fff"/>
<rect x="128.2" y="156" width="3" height="6" fill="#fff"/>
<rect x="69.25" y="156" width="3" height="6" fill="#fff"/>
<rect x="134" y="156" width="3" height="6" fill="#fff"/>
<rect x="75.1" y="156" width="3" height="6" fill="#fff"/>
<rect x="139.8" y="156" width="3" height="6" fill="#fff"/>
<rect x="80.95" y="156" width="3" height="6" fill="#fff"/>
<rect x="145.6" y="156" width="3" height="6" fill="#fff"/>
<rect x="86.8" y="156" width="3" height="6" fill="#fff"/>
<rect x="151.4" y="156" width="3" height="6" fill="#fff"/>
<rect x="92.65" y="156" width="3" height="6" fill="#fff"/>
<rect x="157.2" y="156" width="3" height="6" fill="#fff"/>
<rect x="40" y="164" width="3" height="6" fill="#fff"/>
<rect x="111" y="164" width="3" height="6" fill="#fff"/>
<rect x="45.85" y="164" width="3" height="6" fill="#fff"/>
<rect x="116.75" y="164" width="3" height="6" fill="#fff"/>
<rect x="51.7" y="164" width="3" height="6" fill="#fff"/>
<rect x="122.5" y="164" width="3" height="6" fill="#fff"/>
<rect x="57.55" y="164" width="3" height="6" fill="#fff"/>
<rect x="128.25" y="164" width="3" height="6" fill="#fff"/>
<rect x="63.4" y="164" width="3" height="6" fill="#fff"/>
<rect x="134" y="164" width="3" height="6" fill="#fff"/>
<rect x="69.25" y="164" width="3" height="6" fill="#fff"/>
<rect x="139.75" y="164" width="3" height="6" fill="#fff"/>
<rect x="75.1" y="164" width="3" height="6" fill="#fff"/>
<rect x="145.5" y="164" width="3" height="6" fill="#fff"/>
<rect x="43" y="173" width="18" height="5" fill="#fff"/>
<rect x="65" y="173" width="13" height="5" fill="#fff"/>
<rect x="111" y="173" width="15" height="5" fill="#fff"/>
<rect x="130" y="173" width="17" height="5" fill="#fff"/>
<rect x="40" y="180" width="3" height="5" fill="#fff"/>
<rect x="45.85" y="180" width="3" height="5" fill="#fff"/>
<rect x="51.7" y="180" width="3" height="5" fill="#fff"/>
<rect x="57.55" y="180" width="3" height="5" fill="#fff"/>
<rect x="63.4" y="180" width="3" height="5" fill="#fff"/>
<rect x="69.25" y="180" width="3" height="5" fill="#fff"/>
<rect x="75.1" y="180" width="3" height="5" fill="#fff"/>
<rect x="80.95" y="180" width="3" height="5" fill="#fff"/>
<rect x="105" y="180" width="3" height="5" fill="#fff"/>
<rect x="111.25" y="180" width="3" height="5" fill="#fff"/>
<rect x="117" y="180" width="3" height="5" fill="#fff"/>
<rect x="122.75" y="180" width="3" height="5" fill="#fff"/>
<rect x="128.5" y="180" width="3" height="5" fill="#fff"/>
<rect x="134.25" y="180" width="3" height="5" fill="#fff"/>
<rect x="140" y="180" width="3" height="5" fill="#fff"/>
<rect x="145.75" y="180" width="3" height="5" fill="#fff"/>
<rect x="38" y="125" width="1" height="3" fill="#fff"/>
<rect x="38" y="174" width="1" height="3" fill="#fff"/>
<rect x="38" y="150" width="1" height="2" fill="#fff"/>
<rect x="76" y="132" width="56" height="14" fill="#fff"/>
<rect x="86" y="163" width="23" height="2" fill="#fff"/>
<rect x="80" y="165" width="29" height="17" fill="#000"/>
<rect x="81" y="166" width="27" height="15" fill="#fff"/>
<path d="M167 115 H227 V127 H230 V114 H290 V163 H230 V148 H227 V163 H167 Z" fill="#000"/>
<rect x="167" y="163" width="48" height="24" fill="#000"/>
<rect x="230" y="163" width="48" height="24" fill="#000"/>
<rect x="227" y="149" width="3" height="3" fill="#fff"/>
<rect x="169" y="116" width="3" height="5" fill="#fff"/>
<rect x="232" y="115.5" width="3" height="5.5" fill="#fff"/>
<rect x="174.85" y="116" width="3" height="5" fill="#fff"/>
<rect x="237.8" y="115.5" width="3" height="5.5" fill="#fff"/>
<rect x="180.7" y="116" width="3" height="5" fill="#fff"/>
<rect x="243.6" y="115.5" width="3" height="5.5" fill="#fff"/>
<rect x="186.55" y="116" width="3" height="5" fill="#fff"/>
<rect x="249.4" y="115.5" width="3" height="5.5" fill="#fff"/>
<rect x="192.4" y="116" width="3" height="5" fill="#fff"/>
<rect x="255.2" y="115.5" width="3" height="5.5" fill="#fff"/>
<rect x="198.25" y="116" width="3" height="5" fill="#fff"/>
<rect x="261" y="115.5" width="3" height="5.5" fill="#fff"/>
<rect x="204.1" y="116" width="3" height="5" fill="#fff"/>
<rect x="266.8" y="115.5" width="3" height="5.5" fill="#fff"/>
<rect x="209.95" y="116" width="3" height="5" fill="#fff"/>
<rect x="272.6" y="115.5" width="3" height="5.5" fill="#fff"/>
<rect x="215.8" y="116" width="3" height="5" fill="#fff"/>
<rect x="278.4" y="115.5" width="3" height="5.5" fill="#fff"/>
<rect x="221.65" y="116" width="3" height="5" fill="#fff"/>
<rect x="284.2" y="115.5" width="3" height="5.5" fill="#fff"/>
<rect x="174" y="124" width="22" height="5" fill="#fff"/>
<rect x="201" y="124" width="21" height="5" fill="#fff"/>
<rect x="237" y="124" width="21" height="5" fill="#fff"/>
<rect x="264" y="124" width="21" height="5" fill="#fff"/>
<rect x="169" y="132" width="3" height="5" fill="#fff"/>
<rect x="169" y="141" width="3" height="4.5" fill="#fff"/>
<rect x="174.85" y="132" width="3" height="5" fill="#fff"/>
<rect x="174.85" y="141" width="3" height="4.5" fill="#fff"/>
<rect x="180.7" y="132" width="3" height="5" fill="#fff"/>
<rect x="180.7" y="141" width="3" height="4.5" fill="#fff"/>
<rect x="186.55" y="132" width="3" height="5" fill="#fff"/>
<rect x="186.55" y="141" width="3" height="4.5" fill="#fff"/>
<rect x="192.4" y="132" width="3" height="5" fill="#fff"/>
<rect x="192.4" y="141" width="3" height="4.5" fill="#fff"/>
<rect x="198.25" y="132" width="3" height="5" fill="#fff"/>
<rect x="198.25" y="141" width="3" height="4.5" fill="#fff"/>
<rect x="261" y="132" width="3" height="5" fill="#fff"/>
<rect x="261" y="141" width="3" height="4.5" fill="#fff"/>
<rect x="266.85" y="132" width="3" height="5" fill="#fff"/>
<rect x="266.85" y="141" width="3" height="4.5" fill="#fff"/>
<rect x="272.7" y="132" width="3" height="5" fill="#fff"/>
<rect x="272.7" y="141" width="3" height="4.5" fill="#fff"/>
<rect x="278.55" y="132" width="3" height="5" fill="#fff"/>
<rect x="278.55" y="141" width="3" height="4.5" fill="#fff"/>
<rect x="284.4" y="132" width="3" height="5" fill="#fff"/>
<rect x="284.4" y="141" width="3" height="4.5" fill="#fff"/>
<rect x="174" y="148" width="22" height="5" fill="#fff"/>
<rect x="201" y="148" width="21" height="5" fill="#fff"/>
<rect x="237" y="148" width="21" height="5" fill="#fff"/>
<rect x="264" y="148" width="21" height="5" fill="#fff"/>
<rect x="169" y="156" width="3" height="6" fill="#fff"/>
<rect x="232" y="156" width="3" height="6" fill="#fff"/>
<rect x="174.85" y="156" width="3" height="6" fill="#fff"/>
<rect x="237.8" y="156" width="3" height="6" fill="#fff"/>
<rect x="180.7" y="156" width="3" height="6" fill="#fff"/>
<rect x="243.6" y="156" width="3" height="6" fill="#fff"/>
<rect x="186.55" y="156" width="3" height="6" fill="#fff"/>
<rect x="249.4" y="156" width="3" height="6" fill="#fff"/>
<rect x="192.4" y="156" width="3" height="6" fill="#fff"/>
<rect x="255.2" y="156" width="3" height="6" fill="#fff"/>
<rect x="198.25" y="156" width="3" height="6" fill="#fff"/>
<rect x="261" y="156" width="3" height="6" fill="#fff"/>
<rect x="204.1" y="156" width="3" height="6" fill="#fff"/>
<rect x="266.8" y="156" width="3" height="6" fill="#fff"/>
<rect x="209.95" y="156" width="3" height="6" fill="#fff"/>
<rect x="272.6" y="156" width="3" height="6" fill="#fff"/>
<rect x="215.8" y="156" width="3" height="6" fill="#fff"/>
<rect x="278.4" y="156" width="3" height="6" fill="#fff"/>
<rect x="221.65" y="156" width="3" height="6" fill="#fff"/>
<rect x="284.2" y="156" width="3" height="6" fill="#fff"/>
<rect x="169" y="164" width="3" height="6" fill="#fff"/>
<rect x="238" y="164" width="3" height="6" fill="#fff"/>
<rect x="174.85" y="164" width="3" height="6" fill="#fff"/>
<rect x="243.75" y="164" width="3" height="6" fill="#fff"/>
<rect x="180.7" y="164" width="3" height="6" fill="#fff"/>
<rect x="249.5" y="164" width="3" height="6" fill="#fff"/>
<rect x="186.55" y="164" width="3" height="6" fill="#fff"/>
<rect x="255.25" y="164" width="3" height="6" fill="#fff"/>
<rect x="192.4" y="164" width="3" height="6" fill="#fff"/>
<rect x="261" y="164" width="3" height="6" fill="#fff"/>
<rect x="198.25" y="164" width="3" height="6" fill="#fff"/>
<rect x="266.75" y="164" width="3" height="6" fill="#fff"/>
<rect x="204.1" y="164" width="3" height="6" fill="#fff"/>
<rect x="272.5" y="164" width="3" height="6" fill="#fff"/>
<rect x="172" y="173" width="18" height="5" fill="#fff"/>
<rect x="194" y="173" width="13" height="5" fill="#fff"/>
<rect x="238" y="173" width="15" height="5" fill="#fff"/>
<rect x="257" y="173" width="17" height="5" fill="#fff"/>
<rect x="169" y="180" width="3" height="5" fill="#fff"/>
<rect x="174.85" y="180" width="3" height="5" fill="#fff"/>
<rect x="180.7" y="180" width="3" height="5" fill="#fff"/>
<rect x="186.55" y="180" width="3" height="5" fill="#fff"/>
<rect x="192.4" y="180" width="3" height="5" fill="#fff"/>
<rect x="198.25" y="180" width="3" height="5" fill="#fff"/>
<rect x="204.1" y="180" width="3" height="5" fill="#fff"/>
<rect x="209.95" y="180" width="3" height="5" fill="#fff"/>
<rect x="232" y="180" width="3" height="5" fill="#fff"/>
<rect x="238.25" y="180" width="3" height="5" fill="#fff"/>
<rect x="244" y="180" width="3" height="5" fill="#fff"/>
<rect x="249.75" y="180" width="3" height="5" fill="#fff"/>
<rect x="255.5" y="180" width="3" height="5" fill="#fff"/>
<rect x="261.25" y="180" width="3" height="5" fill="#fff"/>
<rect x="267" y="180" width="3" height="5" fill="#fff"/>
<rect x="272.75" y="180" width="3" height="5" fill="#fff"/>
<rect x="167" y="125" width="1" height="3" fill="#fff"/>
<rect x="167" y="174" width="1" height="3" fill="#fff"/>
<rect x="167" y="150" width="1" height="2" fill="#fff"/>
<rect x="205" y="132" width="54" height="14" fill="#fff"/>
<rect x="215" y="163" width="21" height="2" fill="#fff"/>
<rect x="209" y="165" width="27" height="17" fill="#000"/>
<rect x="210" y="166" width="25" height="15" fill="#fff"/>
<rect x="304" y="82" width="88" height="42" fill="#000"/>
<rect x="309" y="96" width="78" height="14" fill="#fff"/>
<rect x="304" y="97" width="2" height="12" fill="#fff"/>
<rect x="306.5" y="84" width="3" height="1" fill="#fff"/>
<rect x="306.5" y="121" width="3" height="1" fill="#fff"/>
<rect x="311.85" y="84" width="3" height="1" fill="#fff"/>
<rect x="311.85" y="121" width="3" height="1" fill="#fff"/>
<rect x="317.2" y="84" width="3" height="1" fill="#fff"/>
<rect x="317.2" y="121" width="3" height="1" fill="#fff"/>
<rect x="322.55" y="84" width="3" height="1" fill="#fff"/>
<rect x="322.55" y="121" width="3" height="1" fill="#fff"/>
<rect x="327.9" y="84" width="3" height="1" fill="#fff"/>
<rect x="327.9" y="121" width="3" height="1" fill="#fff"/>
<rect x="333.25" y="84" width="3" height="1" fill="#fff"/>
<rect x="333.25" y="121" width="3" height="1" fill="#fff"/>
<rect x="338.6" y="84" width="3" height="1" fill="#fff"/>
<rect x="338.6" y="121" width="3" height="1" fill="#fff"/>
<rect x="343.95" y="84" width="3" height="1" fill="#fff"/>
<rect x="343.95" y="121" width="3" height="1" fill="#fff"/>
<rect x="349.3" y="84" width="3" height="1" fill="#fff"/>
<rect x="349.3" y="121" width="3" height="1" fill="#fff"/>
<rect x="354.65" y="84" width="3" height="1" fill="#fff"/>
<rect x="354.65" y="121" width="3" height="1" fill="#fff"/>
<rect x="360" y="84" width="3" height="1" fill="#fff"/>
<rect x="360" y="121" width="3" height="1" fill="#fff"/>
<rect x="365.35" y="84" width="3" height="1" fill="#fff"/>
<rect x="365.35" y="121" width="3" height="1" fill="#fff"/>
<rect x="370.7" y="84" width="3" height="1" fill="#fff"/>
<rect x="370.7" y="121" width="3" height="1" fill="#fff"/>
<rect x="376.05" y="84" width="3" height="1" fill="#fff"/>
<rect x="376.05" y="121" width="3" height="1" fill="#fff"/>
<rect x="381.4" y="84" width="3" height="1" fill="#fff"/>
<rect x="381.4" y="121" width="3" height="1" fill="#fff"/>
<rect x="386.75" y="84" width="3" height="1" fill="#fff"/>
<rect x="386.75" y="121" width="3" height="1" fill="#fff"/>
<rect x="304" y="128" width="88" height="41" fill="#000"/>
<rect x="309" y="142" width="78" height="14" fill="#fff"/>
<rect x="304" y="143" width="2" height="12" fill="#fff"/>
<path d="M316 194 H373 V196 H376 V198 H378 V256 H377 V258 H375 V260 H317 V259 H314 V257 H312 V199 H314 V196 H316 Z" fill="#000"/>
<rect x="320" y="194" width="1" height="3" fill="#fff"/>
<rect x="323" y="194" width="1" height="3" fill="#fff"/>
<rect x="326" y="194" width="1" height="3" fill="#fff"/>
<rect x="337" y="194" width="1" height="3" fill="#fff"/>
<rect x="340" y="194" width="1" height="3" fill="#fff"/>
<rect x="343" y="194" width="1" height="3" fill="#fff"/>
<rect x="357" y="194" width="1" height="3" fill="#fff"/>
<rect x="360" y="194" width="1" height="3" fill="#fff"/>
<rect x="363" y="194" width="1" height="3" fill="#fff"/>
<rect x="331" y="257" width="1" height="3" fill="#fff"/>
<rect x="334" y="257" width="1" height="3" fill="#fff"/>
<rect x="337" y="257" width="1" height="3" fill="#fff"/>
<rect x="348" y="257" width="1" height="3" fill="#fff"/>
<rect x="351" y="257" width="1" height="3" fill="#fff"/>
<rect x="354" y="257" width="1" height="3" fill="#fff"/>
<rect x="365" y="257" width="1" height="3" fill="#fff"/>
<rect x="368" y="257" width="1" height="3" fill="#fff"/>
<rect x="371" y="257" width="1" height="3" fill="#fff"/>
<rect x="312" y="202" width="3" height="1" fill="#fff"/>
<rect x="312" y="213" width="3" height="1" fill="#fff"/>
<rect x="312" y="216" width="3" height="1" fill="#fff"/>
<rect x="312" y="219" width="3" height="1" fill="#fff"/>
<rect x="312" y="230" width="3" height="1" fill="#fff"/>
<rect x="312" y="233" width="3" height="1" fill="#fff"/>
<rect x="312" y="236" width="3" height="1" fill="#fff"/>
<rect x="312" y="247" width="3" height="1" fill="#fff"/>
<rect x="312" y="250" width="3" height="1" fill="#fff"/>
<rect x="375" y="226" width="3" height="1" fill="#fff"/>
<rect x="375" y="229" width="3" height="1" fill="#fff"/>
<rect x="375" y="232" width="3" height="1" fill="#fff"/>
<rect x="375" y="243" width="3" height="1" fill="#fff"/>
<rect x="375" y="246" width="3" height="1" fill="#fff"/>
<rect x="375" y="249" width="3" height="1" fill="#fff"/>
<rect x="375" y="209" width="3" height="1" fill="#fff"/>
<rect x="375" y="212" width="3" height="1" fill="#fff"/>
<rect x="375" y="215" width="3" height="1" fill="#fff"/>
<path d="M320 248 H322 V249 H323 V251 H322 V252 H320 V251 H319 V249 H320 Z" fill="#fff"/>
<path d="M99 273 H156 V275 H159 V277 H161 V335 H160 V337 H158 V339 H100 V338 H97 V336 H95 V278 H97 V275 H99 Z" fill="#000"/>
<rect x="100.6" y="273" width="1" height="3" fill="#fff"/>
<rect x="115.5" y="273" width="1" height="3" fill="#fff"/>
<rect x="118.5" y="273" width="1" height="3" fill="#fff"/>
<rect x="121.5" y="273" width="1" height="3" fill="#fff"/>
<rect x="132.5" y="273" width="1" height="3" fill="#fff"/>
<rect x="135.5" y="273" width="1" height="3" fill="#fff"/>
<rect x="138.5" y="273" width="1" height="3" fill="#fff"/>
<rect x="149.5" y="273" width="1" height="3" fill="#fff"/>
<rect x="152.5" y="273" width="1" height="3" fill="#fff"/>
<rect x="155.5" y="273" width="1" height="3" fill="#fff"/>
<rect x="110" y="336" width="1" height="3" fill="#fff"/>
<rect x="113" y="336" width="1" height="3" fill="#fff"/>
<rect x="116" y="336" width="1" height="3" fill="#fff"/>
<rect x="126.5" y="336" width="1" height="3" fill="#fff"/>
<rect x="129.5" y="336" width="1" height="3" fill="#fff"/>
<rect x="132.5" y="336" width="1" height="3" fill="#fff"/>
<rect x="142.7" y="336" width="1" height="3" fill="#fff"/>
<rect x="145.7" y="336" width="1" height="3" fill="#fff"/>
<rect x="148.7" y="336" width="1" height="3" fill="#fff"/>
<rect x="95" y="318" width="3" height="1" fill="#fff"/>
<rect x="95" y="321" width="3" height="1" fill="#fff"/>
<rect x="95" y="324" width="3" height="1" fill="#fff"/>
<rect x="158" y="278.7" width="3" height="1" fill="#fff"/>
<rect x="158" y="281.7" width="3" height="1" fill="#fff"/>
<rect x="158" y="284.7" width="3" height="1" fill="#fff"/>
<rect x="158" y="296" width="3" height="1" fill="#fff"/>
<rect x="158" y="299" width="3" height="1" fill="#fff"/>
<rect x="158" y="302" width="3" height="1" fill="#fff"/>
<rect x="158" y="313.5" width="3" height="1" fill="#fff"/>
<rect x="158" y="316.5" width="3" height="1" fill="#fff"/>
<rect x="158" y="319.5" width="3" height="1" fill="#fff"/>
<rect x="158" y="329.5" width="3" height="1" fill="#fff"/>
<rect x="158" y="332.5" width="3" height="1" fill="#fff"/>
<rect x="158" y="335.5" width="3" height="1" fill="#fff"/>
<path d="M104 328 H106 V329 H107 V331 H106 V332 H104 V331 H103 V329 H104 Z" fill="#fff"/>
<path d="M432 355 H488 V357 H491 V359 H493 V417 H492 V419 H490 V421 H433 V420 H430 V418 H428 V360 H430 V357 H432 Z" fill="#000"/>
<rect x="436.5" y="355" width="1" height="3" fill="#fff"/>
<rect x="439.5" y="355" width="1" height="3" fill="#fff"/>
<rect x="442.5" y="355" width="1" height="3" fill="#fff"/>
<rect x="453.5" y="355" width="1" height="3" fill="#fff"/>
<rect x="456.5" y="355" width="1" height="3" fill="#fff"/>
<rect x="459.5" y="355" width="1" height="3" fill="#fff"/>
<rect x="467" y="355" width="1" height="3" fill="#fff"/>
<rect x="470" y="355" width="1" height="3" fill="#fff"/>
<rect x="473" y="355" width="1" height="3" fill="#fff"/>
<rect x="476" y="355" width="1" height="3" fill="#fff"/>
<rect x="441" y="418" width="1" height="3" fill="#fff"/>
<rect x="444" y="418" width="1" height="3" fill="#fff"/>
<rect x="447" y="418" width="1" height="3" fill="#fff"/>
<rect x="458" y="418" width="1" height="3" fill="#fff"/>
<rect x="461" y="418" width="1" height="3" fill="#fff"/>
<rect x="464" y="418" width="1" height="3" fill="#fff"/>
<rect x="472" y="418" width="1" height="3" fill="#fff"/>
<rect x="475" y="418" width="1" height="3" fill="#fff"/>
<rect x="478" y="418" width="1" height="3" fill="#fff"/>
<rect x="481" y="418" width="1" height="3" fill="#fff"/>
<rect x="428" y="363" width="3" height="1" fill="#fff"/>
<rect x="428" y="366" width="3" height="1" fill="#fff"/>
<rect x="428" y="369" width="3" height="1" fill="#fff"/>
<rect x="428" y="380" width="3" height="1" fill="#fff"/>
<rect x="428" y="383" width="3" height="1" fill="#fff"/>
<rect x="428" y="386" width="3" height="1" fill="#fff"/>
<rect x="428" y="389" width="3" height="1" fill="#fff"/>
<rect x="428" y="400" width="3" height="1" fill="#fff"/>
<rect x="428" y="403" width="3" height="1" fill="#fff"/>
<rect x="428" y="406" width="3" height="1" fill="#fff"/>
<rect x="428" y="409" width="3" height="1" fill="#fff"/>
<rect x="490" y="372" width="3" height="1" fill="#fff"/>
<rect x="490" y="375" width="3" height="1" fill="#fff"/>
<rect x="490" y="378" width="3" height="1" fill="#fff"/>
<rect x="490" y="389" width="3" height="1" fill="#fff"/>
<rect x="490" y="392" width="3" height="1" fill="#fff"/>
<rect x="490" y="395" width="3" height="1" fill="#fff"/>
<rect x="490" y="405.5" width="3" height="1" fill="#fff"/>
<rect x="490" y="408.5" width="3" height="1" fill="#fff"/>
<rect x="490" y="411.5" width="3" height="1" fill="#fff"/>
<path d="M436 363 H438 V364 H439 V366 H438 V367 H436 V366 H435 V364 H436 Z" fill="#fff"/>
<path d="M105 402 H162 V404 H165 V406 H167 V464 H166 V466 H164 V468 H106 V467 H103 V465 H101 V407 H103 V404 H105 Z" fill="#000"/>
<rect x="112.5" y="402" width="1" height="3" fill="#fff"/>
<rect x="115.5" y="402" width="1" height="3" fill="#fff"/>
<rect x="118.5" y="402" width="1" height="3" fill="#fff"/>
<rect x="132" y="402" width="1" height="3" fill="#fff"/>
<rect x="135" y="402" width="1" height="3" fill="#fff"/>
<rect x="146.5" y="402" width="1" height="3" fill="#fff"/>
<rect x="149.5" y="402" width="1" height="3" fill="#fff"/>
<rect x="152.5" y="402" width="1" height="3" fill="#fff"/>
<rect x="108" y="465" width="1" height="3" fill="#fff"/>
<rect x="120.8" y="465" width="1" height="3" fill="#fff"/>
<rect x="123.8" y="465" width="1" height="3" fill="#fff"/>
<rect x="126.8" y="465" width="1" height="3" fill="#fff"/>
<rect x="137.5" y="465" width="1" height="3" fill="#fff"/>
<rect x="140.5" y="465" width="1" height="3" fill="#fff"/>
<rect x="152" y="465" width="1" height="3" fill="#fff"/>
<rect x="155" y="465" width="1" height="3" fill="#fff"/>
<rect x="158" y="465" width="1" height="3" fill="#fff"/>
<rect x="101" y="413.5" width="3" height="1" fill="#fff"/>
<rect x="101" y="416.5" width="3" height="1" fill="#fff"/>
<rect x="101" y="419.5" width="3" height="1" fill="#fff"/>
<rect x="101" y="430.5" width="3" height="1" fill="#fff"/>
<rect x="101" y="433.5" width="3" height="1" fill="#fff"/>
<rect x="101" y="436.5" width="3" height="1" fill="#fff"/>
<rect x="101" y="447.5" width="3" height="1" fill="#fff"/>
<rect x="101" y="450.5" width="3" height="1" fill="#fff"/>
<rect x="101" y="453.5" width="3" height="1" fill="#fff"/>
<rect x="101" y="456.5" width="3" height="1" fill="#fff"/>
<rect x="164" y="419.5" width="3" height="1" fill="#fff"/>
<rect x="164" y="422.5" width="3" height="1" fill="#fff"/>
<rect x="164" y="425.5" width="3" height="1" fill="#fff"/>
<rect x="164" y="436" width="3" height="1" fill="#fff"/>
<rect x="164" y="439" width="3" height="1" fill="#fff"/>
<rect x="164" y="442" width="3" height="1" fill="#fff"/>
<rect x="164" y="453.5" width="3" height="1" fill="#fff"/>
<rect x="164" y="456.5" width="3" height="1" fill="#fff"/>
<rect x="164" y="459.5" width="3" height="1" fill="#fff"/>
<path d="M109 410 H111 V411 H112 V413 H111 V414 H109 V413 H108 V411 H109 Z" fill="#fff"/>
<rect x="207" y="321" width="45" height="44" fill="#000"/>
<rect x="211" y="317" width="38" height="4" fill="#000"/>
<rect x="211" y="365" width="38" height="4" fill="#000"/>
<rect x="202" y="325" width="5" height="36" fill="#000"/>
<rect x="252" y="325" width="5" height="36" fill="#000"/>
<rect x="212.8" y="317" width="1.2" height="4" fill="#fff"/>
<rect x="212.8" y="365" width="1.2" height="4" fill="#fff"/>
<rect x="215.9" y="317" width="1.2" height="4" fill="#fff"/>
<rect x="215.9" y="365" width="1.2" height="4" fill="#fff"/>
<rect x="219" y="317" width="1.2" height="4" fill="#fff"/>
<rect x="219" y="365" width="1.2" height="4" fill="#fff"/>
<rect x="222.1" y="317" width="1.2" height="4" fill="#fff"/>
<rect x="222.1" y="365" width="1.2" height="4" fill="#fff"/>
<rect x="225.2" y="317" width="1.2" height="4" fill="#fff"/>
<rect x="225.2" y="365" width="1.2" height="4" fill="#fff"/>
<rect x="228.3" y="317" width="1.2" height="4" fill="#fff"/>
<rect x="228.3" y="365" width="1.2" height="4" fill="#fff"/>
<rect x="231.4" y="317" width="1.2" height="4" fill="#fff"/>
<rect x="231.4" y="365" width="1.2" height="4" fill="#fff"/>
<rect x="234.5" y="317" width="1.2" height="4" fill="#fff"/>
<rect x="234.5" y="365" width="1.2" height="4" fill="#fff"/>
<rect x="237.6" y="317" width="1.2" height="4" fill="#fff"/>
<rect x="237.6" y="365" width="1.2" height="4" fill="#fff"/>
<rect x="240.7" y="317" width="1.2" height="4" fill="#fff"/>
<rect x="240.7" y="365" width="1.2" height="4" fill="#fff"/>
<rect x="243.8" y="317" width="1.2" height="4" fill="#fff"/>
<rect x="243.8" y="365" width="1.2" height="4" fill="#fff"/>
<rect x="246.9" y="317" width="1.2" height="4" fill="#fff"/>
<rect x="246.9" y="365" width="1.2" height="4" fill="#fff"/>
<rect x="250" y="317" width="1.2" height="4" fill="#fff"/>
<rect x="250" y="365" width="1.2" height="4" fill="#fff"/>
<rect x="202" y="325.8" width="5" height="1" fill="#fff"/>
<rect x="252" y="326" width="5" height="1" fill="#fff"/>
<rect x="202" y="328.95" width="5" height="1" fill="#fff"/>
<rect x="252" y="329.15" width="5" height="1" fill="#fff"/>
<rect x="202" y="332.1" width="5" height="1" fill="#fff"/>
<rect x="252" y="332.3" width="5" height="1" fill="#fff"/>
<rect x="202" y="335.25" width="5" height="1" fill="#fff"/>
<rect x="252" y="335.45" width="5" height="1" fill="#fff"/>
<rect x="202" y="338.4" width="5" height="1" fill="#fff"/>
<rect x="252" y="338.6" width="5" height="1" fill="#fff"/>
<rect x="202" y="341.55" width="5" height="1" fill="#fff"/>
<rect x="252" y="341.75" width="5" height="1" fill="#fff"/>
<rect x="202" y="344.7" width="5" height="1" fill="#fff"/>
<rect x="252" y="344.9" width="5" height="1" fill="#fff"/>
<rect x="202" y="347.85" width="5" height="1" fill="#fff"/>
<rect x="252" y="348.05" width="5" height="1" fill="#fff"/>
<rect x="202" y="351" width="5" height="1" fill="#fff"/>
<rect x="252" y="351.2" width="5" height="1" fill="#fff"/>
<rect x="202" y="354.15" width="5" height="1" fill="#fff"/>
<rect x="252" y="354.35" width="5" height="1" fill="#fff"/>
<rect x="202" y="357.3" width="5" height="1" fill="#fff"/>
<rect x="252" y="357.5" width="5" height="1" fill="#fff"/>
<path d="M202.5 318 L205.5 315.5 L210 320 L207.5 323.5 L204 322 Z" fill="#000"/>
<path d="M257.5 318 L254.5 315.5 L250 320 L252.5 323.5 L256 322 Z" fill="#000"/>
<path d="M202.5 367 L205.5 369.5 L210 365 L207.5 361.5 L204 363 Z" fill="#000"/>
<path d="M257.5 367 L254.5 369.5 L250 365 L252.5 361.5 L256 363 Z" fill="#000"/>
<rect x="216" y="336" width="28" height="13.5" fill="#fff"/>
<circle cx="213.3" cy="358.6" r="2.6" fill="#fff" shape-rendering="geometricPrecision"/>
<rect x="294" y="304" width="61" height="60" fill="#000"/>
<rect x="297" y="306" width="55" height="55" fill="#fff"/>
<rect x="294" y="304" width="9" height="8" fill="#000"/>
<rect x="294" y="356" width="9" height="8" fill="#000"/>
<rect x="346" y="356" width="9" height="8" fill="#000"/>
<path d="M348 304 L355 311 V304 Z" fill="#fff"/>
<circle cx="350.5" cy="308.5" r="2.6" fill="#fff" stroke="#000" stroke-width="1.1" shape-rendering="geometricPrecision"/>
<rect x="311.5" y="306" width="1" height="4" fill="#000"/>
<rect x="320" y="306" width="1" height="4" fill="#000"/>
<rect x="331" y="306" width="1" height="4" fill="#000"/>
<rect x="340" y="306" width="1" height="4" fill="#000"/>
<rect x="305" y="357" width="1" height="4" fill="#000"/>
<rect x="313.5" y="357" width="1" height="4" fill="#000"/>
<rect x="324" y="357" width="1" height="4" fill="#000"/>
<rect x="333" y="357" width="1" height="4" fill="#000"/>
<rect x="343" y="357" width="1" height="4" fill="#000"/>
<rect x="297" y="322" width="4" height="1" fill="#000"/>
<rect x="348" y="322" width="4" height="1" fill="#000"/>
<rect x="297" y="331" width="4" height="1" fill="#000"/>
<rect x="348" y="331" width="4" height="1" fill="#000"/>
<rect x="297" y="340" width="4" height="1" fill="#000"/>
<rect x="348" y="340" width="4" height="1" fill="#000"/>
<path d="M310 324 H339 L341 326 V340.5 L339 342.5 H310 L308 340.5 V326 Z" fill="#000"/>
<rect x="310" y="326" width="29" height="14.5" fill="#fff"/>
<rect x="565" y="441" width="126" height="43" fill="#000"/>
<rect x="565" y="456" width="2" height="12" fill="#fff"/>
<path d="M616 455 H640 L642 457 V467 L640 469.5 H616 L614 467 V457 Z" fill="#fff"/>
<rect x="567" y="481" width="3.5" height="1" fill="#fff"/>
<rect x="573.2" y="481" width="3.5" height="1" fill="#fff"/>
<rect x="579.4" y="481" width="3.5" height="1" fill="#fff"/>
<rect x="585.6" y="481" width="3.5" height="1" fill="#fff"/>
<rect x="591.8" y="481" width="3.5" height="1" fill="#fff"/>
<rect x="598" y="481" width="3.5" height="1" fill="#fff"/>
<rect x="604.2" y="481" width="3.5" height="1" fill="#fff"/>
<rect x="610.4" y="481" width="3.5" height="1" fill="#fff"/>
<rect x="616.6" y="481" width="3.5" height="1" fill="#fff"/>
<rect x="622.8" y="481" width="3.5" height="1" fill="#fff"/>
<rect x="629" y="481" width="3.5" height="1" fill="#fff"/>
<rect x="635.2" y="481" width="3.5" height="1" fill="#fff"/>
<rect x="641.4" y="481" width="3.5" height="1" fill="#fff"/>
<rect x="647.6" y="481" width="3.5" height="1" fill="#fff"/>
<rect x="653.8" y="481" width="3.5" height="1" fill="#fff"/>
<rect x="660" y="481" width="3.5" height="1" fill="#fff"/>
<rect x="666.2" y="481" width="3.5" height="1" fill="#fff"/>
<rect x="672.4" y="481" width="3.5" height="1" fill="#fff"/>
<rect x="678.6" y="481" width="3.5" height="1" fill="#fff"/>
<rect x="684.8" y="481" width="3.5" height="1" fill="#fff"/>
<rect x="756" y="446" width="30" height="37" fill="#000"/>
<rect x="780" y="441" width="6" height="46" fill="#000"/>
<rect x="783" y="439" width="3" height="51" fill="#000"/>
<rect x="749" y="454" width="8" height="1" fill="#000"/>
<rect x="749" y="462" width="8" height="1" fill="#000"/>
<rect x="749" y="454" width="1" height="9" fill="#000"/>
<rect x="756" y="454" width="1" height="9" fill="#000"/>
<rect x="749" y="465" width="8" height="1" fill="#000"/>
<rect x="749" y="473" width="8" height="1" fill="#000"/>
<rect x="749" y="465" width="1" height="9" fill="#000"/>
<rect x="756" y="465" width="1" height="9" fill="#000"/>
<rect x="755" y="452" width="2" height="23" fill="#000"/>
<rect x="626" y="494" width="113" height="1" fill="#000"/>
<rect x="626" y="518" width="113" height="1" fill="#000"/>
<rect x="626" y="494" width="1" height="25" fill="#000"/>
<rect x="738" y="494" width="1" height="25" fill="#000"/>
<path d="M629.5 497.5 H634.5 L635.5 498.5 V500.5 L634.5 501.5 H629.5 L628.5 500.5 V498.5 Z" fill="#000"/>
<rect x="630" y="499" width="4" height="1" fill="#fff"/>
<rect x="629.5" y="500.5" width="5" height="2" fill="#000"/>
<rect x="628.5" y="505" width="7" height="2" fill="#000"/>
<path d="M638.73 497.5 H643.73 L644.73 498.5 V500.5 L643.73 501.5 H638.73 L637.73 500.5 V498.5 Z" fill="#000"/>
<rect x="639.23" y="499" width="4" height="1" fill="#fff"/>
<rect x="638.73" y="500.5" width="5" height="2" fill="#000"/>
<rect x="637.73" y="505" width="7" height="2" fill="#000"/>
<path d="M647.96 497.5 H652.96 L653.96 498.5 V500.5 L652.96 501.5 H647.96 L646.96 500.5 V498.5 Z" fill="#000"/>
<rect x="648.46" y="499" width="4" height="1" fill="#fff"/>
<rect x="647.96" y="500.5" width="5" height="2" fill="#000"/>
<rect x="646.96" y="505" width="7" height="2" fill="#000"/>
<path d="M657.19 497.5 H662.19 L663.19 498.5 V500.5 L662.19 501.5 H657.19 L656.19 500.5 V498.5 Z" fill="#000"/>
<rect x="657.69" y="499" width="4" height="1" fill="#fff"/>
<rect x="657.19" y="500.5" width="5" height="2" fill="#000"/>
<rect x="656.19" y="505" width="7" height="2" fill="#000"/>
<path d="M666.42 497.5 H671.42 L672.42 498.5 V500.5 L671.42 501.5 H666.42 L665.42 500.5 V498.5 Z" fill="#000"/>
<rect x="666.92" y="499" width="4" height="1" fill="#fff"/>
<rect x="666.42" y="500.5" width="5" height="2" fill="#000"/>
<rect x="665.42" y="505" width="7" height="2" fill="#000"/>
<path d="M675.65 497.5 H680.65 L681.65 498.5 V500.5 L680.65 501.5 H675.65 L674.65 500.5 V498.5 Z" fill="#000"/>
<rect x="676.15" y="499" width="4" height="1" fill="#fff"/>
<rect x="675.65" y="500.5" width="5" height="2" fill="#000"/>
<rect x="674.65" y="505" width="7" height="2" fill="#000"/>
<path d="M684.88 497.5 H689.88 L690.88 498.5 V500.5 L689.88 501.5 H684.88 L683.88 500.5 V498.5 Z" fill="#000"/>
<rect x="685.38" y="499" width="4" height="1" fill="#fff"/>
<rect x="684.88" y="500.5" width="5" height="2" fill="#000"/>
<rect x="683.88" y="505" width="7" height="2" fill="#000"/>
<path d="M694.11 497.5 H699.11 L700.11 498.5 V500.5 L699.11 501.5 H694.11 L693.11 500.5 V498.5 Z" fill="#000"/>
<rect x="694.61" y="499" width="4" height="1" fill="#fff"/>
<rect x="694.11" y="500.5" width="5" height="2" fill="#000"/>
<rect x="693.11" y="505" width="7" height="2" fill="#000"/>
<path d="M703.34 497.5 H708.34 L709.34 498.5 V500.5 L708.34 501.5 H703.34 L702.34 500.5 V498.5 Z" fill="#000"/>
<rect x="703.84" y="499" width="4" height="1" fill="#fff"/>
<rect x="703.34" y="500.5" width="5" height="2" fill="#000"/>
<rect x="702.34" y="505" width="7" height="2" fill="#000"/>
<path d="M712.57 497.5 H717.57 L718.57 498.5 V500.5 L717.57 501.5 H712.57 L711.57 500.5 V498.5 Z" fill="#000"/>
<rect x="713.07" y="499" width="4" height="1" fill="#fff"/>
<rect x="712.57" y="500.5" width="5" height="2" fill="#000"/>
<rect x="711.57" y="505" width="7" height="2" fill="#000"/>
<path d="M721.8 497.5 H726.8 L727.8 498.5 V500.5 L726.8 501.5 H721.8 L720.8 500.5 V498.5 Z" fill="#000"/>
<rect x="722.3" y="499" width="4" height="1" fill="#fff"/>
<rect x="721.8" y="500.5" width="5" height="2" fill="#000"/>
<rect x="720.8" y="505" width="7" height="2" fill="#000"/>
<path d="M731.03 497.5 H736.03 L737.03 498.5 V500.5 L736.03 501.5 H731.03 L730.03 500.5 V498.5 Z" fill="#000"/>
<rect x="731.53" y="499" width="4" height="1" fill="#fff"/>
<rect x="731.03" y="500.5" width="5" height="2" fill="#000"/>
<rect x="730.03" y="505" width="7" height="2" fill="#000"/>
<rect x="627" y="502" width="111" height="1" fill="#000"/>
<rect x="632" y="508" width="7.5" height="1" fill="#000"/>
<rect x="632" y="515" width="7.5" height="1" fill="#000"/>
<rect x="632" y="508" width="1" height="8" fill="#000"/>
<rect x="638.5" y="508" width="1" height="8" fill="#000"/>
<rect x="640.56" y="508" width="7.5" height="1" fill="#000"/>
<rect x="640.56" y="515" width="7.5" height="1" fill="#000"/>
<rect x="640.56" y="508" width="1" height="8" fill="#000"/>
<rect x="647.06" y="508" width="1" height="8" fill="#000"/>
<rect x="649.12" y="508" width="7.5" height="1" fill="#000"/>
<rect x="649.12" y="515" width="7.5" height="1" fill="#000"/>
<rect x="649.12" y="508" width="1" height="8" fill="#000"/>
<rect x="655.62" y="508" width="1" height="8" fill="#000"/>
<rect x="657.68" y="508" width="7.5" height="1" fill="#000"/>
<rect x="657.68" y="515" width="7.5" height="1" fill="#000"/>
<rect x="657.68" y="508" width="1" height="8" fill="#000"/>
<rect x="664.18" y="508" width="1" height="8" fill="#000"/>
<rect x="666.24" y="508" width="7.5" height="1" fill="#000"/>
<rect x="666.24" y="515" width="7.5" height="1" fill="#000"/>
<rect x="666.24" y="508" width="1" height="8" fill="#000"/>
<rect x="672.74" y="508" width="1" height="8" fill="#000"/>
<rect x="674.8" y="508" width="7.5" height="1" fill="#000"/>
<rect x="674.8" y="515" width="7.5" height="1" fill="#000"/>
<rect x="674.8" y="508" width="1" height="8" fill="#000"/>
<rect x="681.3" y="508" width="1" height="8" fill="#000"/>
<rect x="683.36" y="508" width="7.5" height="1" fill="#000"/>
<rect x="683.36" y="515" width="7.5" height="1" fill="#000"/>
<rect x="683.36" y="508" width="1" height="8" fill="#000"/>
<rect x="689.86" y="508" width="1" height="8" fill="#000"/>
<rect x="691.92" y="508" width="7.5" height="1" fill="#000"/>
<rect x="691.92" y="515" width="7.5" height="1" fill="#000"/>
<rect x="691.92" y="508" width="1" height="8" fill="#000"/>
<rect x="698.42" y="508" width="1" height="8" fill="#000"/>
<rect x="700.48" y="508" width="7.5" height="1" fill="#000"/>
<rect x="700.48" y="515" width="7.5" height="1" fill="#000"/>
<rect x="700.48" y="508" width="1" height="8" fill="#000"/>
<rect x="706.98" y="508" width="1" height="8" fill="#000"/>
<rect x="709.04" y="508" width="7.5" height="1" fill="#000"/>
<rect x="709.04" y="515" width="7.5" height="1" fill="#000"/>
<rect x="709.04" y="508" width="1" height="8" fill="#000"/>
<rect x="715.54" y="508" width="1" height="8" fill="#000"/>
<rect x="717.6" y="508" width="7.5" height="1" fill="#000"/>
<rect x="717.6" y="515" width="7.5" height="1" fill="#000"/>
<rect x="717.6" y="508" width="1" height="8" fill="#000"/>
<rect x="724.1" y="508" width="1" height="8" fill="#000"/>
<rect x="726.16" y="508" width="7.5" height="1" fill="#000"/>
<rect x="726.16" y="515" width="7.5" height="1" fill="#000"/>
<rect x="726.16" y="508" width="1" height="8" fill="#000"/>
<rect x="732.66" y="508" width="1" height="8" fill="#000"/>
<rect x="626" y="508" width="3" height="1" fill="#000"/>
<rect x="626" y="509" width="3" height="1" fill="#000"/>
<rect x="626" y="508" width="1" height="2" fill="#000"/>
<rect x="628" y="508" width="1" height="2" fill="#000"/>
<rect x="626" y="513" width="3" height="1" fill="#000"/>
<rect x="626" y="514" width="3" height="1" fill="#000"/>
<rect x="626" y="513" width="1" height="2" fill="#000"/>
<rect x="628" y="513" width="1" height="2" fill="#000"/>
<rect x="735.5" y="508" width="3.5" height="1" fill="#000"/>
<rect x="735.5" y="509" width="3.5" height="1" fill="#000"/>
<rect x="735.5" y="508" width="1" height="2" fill="#000"/>
<rect x="738" y="508" width="1" height="2" fill="#000"/>
<rect x="735.5" y="513" width="3.5" height="1" fill="#000"/>
<rect x="735.5" y="514" width="3.5" height="1" fill="#000"/>
<rect x="735.5" y="513" width="1" height="2" fill="#000"/>
<rect x="738" y="513" width="1" height="2" fill="#000"/>
<rect x="18" y="372" width="27" height="1" fill="#000"/>
<rect x="18" y="391" width="27" height="1" fill="#000"/>
<rect x="18" y="372" width="1" height="20" fill="#000"/>
<rect x="44" y="372" width="1" height="20" fill="#000"/>
<rect x="44" y="371" width="2" height="22" fill="#000"/>
<rect x="45" y="375" width="7" height="1" fill="#000"/>
<rect x="45" y="388" width="7" height="1" fill="#000"/>
<rect x="20" y="374" width="1" height="1" fill="#000"/>
<rect x="20" y="376" width="1" height="1" fill="#000"/>
<rect x="20" y="378" width="1" height="1" fill="#000"/>
<rect x="20" y="380" width="1" height="1" fill="#000"/>
<rect x="20" y="382" width="1" height="1" fill="#000"/>
<rect x="20" y="384" width="1" height="1" fill="#000"/>
<rect x="20" y="386" width="1" height="1" fill="#000"/>
<rect x="20" y="388" width="1" height="1" fill="#000"/>
<rect x="22" y="374" width="1" height="1" fill="#000"/>
<rect x="22" y="376" width="1" height="1" fill="#000"/>
<rect x="22" y="378" width="1" height="1" fill="#000"/>
<rect x="22" y="380" width="1" height="1" fill="#000"/>
<rect x="22" y="382" width="1" height="1" fill="#000"/>
<rect x="22" y="384" width="1" height="1" fill="#000"/>
<rect x="22" y="386" width="1" height="1" fill="#000"/>
<rect x="22" y="388" width="1" height="1" fill="#000"/>
<rect x="24" y="374" width="1" height="1" fill="#000"/>
<rect x="24" y="376" width="1" height="1" fill="#000"/>
<rect x="24" y="378" width="1" height="1" fill="#000"/>
<rect x="24" y="380" width="1" height="1" fill="#000"/>
<rect x="24" y="382" width="1" height="1" fill="#000"/>
<rect x="24" y="384" width="1" height="1" fill="#000"/>
<rect x="24" y="386" width="1" height="1" fill="#000"/>
<rect x="24" y="388" width="1" height="1" fill="#000"/>
<rect x="26" y="374" width="1" height="1" fill="#000"/>
<rect x="26" y="376" width="1" height="1" fill="#000"/>
<rect x="26" y="378" width="1" height="1" fill="#000"/>
<rect x="26" y="380" width="1" height="1" fill="#000"/>
<rect x="26" y="382" width="1" height="1" fill="#000"/>
<rect x="26" y="384" width="1" height="1" fill="#000"/>
<rect x="26" y="386" width="1" height="1" fill="#000"/>
<rect x="26" y="388" width="1" height="1" fill="#000"/>
<rect x="28" y="374" width="1" height="1" fill="#000"/>
<rect x="28" y="376" width="1" height="1" fill="#000"/>
<rect x="28" y="378" width="1" height="1" fill="#000"/>
<rect x="28" y="380" width="1" height="1" fill="#000"/>
<rect x="28" y="382" width="1" height="1" fill="#000"/>
<rect x="28" y="384" width="1" height="1" fill="#000"/>
<rect x="28" y="386" width="1" height="1" fill="#000"/>
<rect x="28" y="388" width="1" height="1" fill="#000"/>
<rect x="30" y="374" width="1" height="1" fill="#000"/>
<rect x="30" y="376" width="1" height="1" fill="#000"/>
<rect x="30" y="378" width="1" height="1" fill="#000"/>
<rect x="30" y="380" width="1" height="1" fill="#000"/>
<rect x="30" y="382" width="1" height="1" fill="#000"/>
<rect x="30" y="384" width="1" height="1" fill="#000"/>
<rect x="30" y="386" width="1" height="1" fill="#000"/>
<rect x="30" y="388" width="1" height="1" fill="#000"/>
<rect x="32" y="374" width="1" height="1" fill="#000"/>
<rect x="32" y="376" width="1" height="1" fill="#000"/>
<rect x="32" y="378" width="1" height="1" fill="#000"/>
<rect x="32" y="380" width="1" height="1" fill="#000"/>
<rect x="32" y="382" width="1" height="1" fill="#000"/>
<rect x="32" y="384" width="1" height="1" fill="#000"/>
<rect x="32" y="386" width="1" height="1" fill="#000"/>
<rect x="32" y="388" width="1" height="1" fill="#000"/>
<rect x="34" y="374" width="1" height="1" fill="#000"/>
<rect x="34" y="376" width="1" height="1" fill="#000"/>
<rect x="34" y="378" width="1" height="1" fill="#000"/>
<rect x="34" y="380" width="1" height="1" fill="#000"/>
<rect x="34" y="382" width="1" height="1" fill="#000"/>
<rect x="34" y="384" width="1" height="1" fill="#000"/>
<rect x="34" y="386" width="1" height="1" fill="#000"/>
<rect x="34" y="388" width="1" height="1" fill="#000"/>
<rect x="36" y="374" width="1" height="1" fill="#000"/>
<rect x="36" y="376" width="1" height="1" fill="#000"/>
<rect x="36" y="378" width="1" height="1" fill="#000"/>
<rect x="36" y="380" width="1" height="1" fill="#000"/>
<rect x="36" y="382" width="1" height="1" fill="#000"/>
<rect x="36" y="384" width="1" height="1" fill="#000"/>
<rect x="36" y="386" width="1" height="1" fill="#000"/>
<rect x="36" y="388" width="1" height="1" fill="#000"/>
<rect x="38" y="374" width="1" height="1" fill="#000"/>
<rect x="38" y="376" width="1" height="1" fill="#000"/>
<rect x="38" y="378" width="1" height="1" fill="#000"/>
<rect x="38" y="380" width="1" height="1" fill="#000"/>
<rect x="38" y="382" width="1" height="1" fill="#000"/>
<rect x="38" y="384" width="1" height="1" fill="#000"/>
<rect x="38" y="386" width="1" height="1" fill="#000"/>
<rect x="38" y="388" width="1" height="1" fill="#000"/>
<rect x="40" y="374" width="1" height="1" fill="#000"/>
<rect x="40" y="376" width="1" height="1" fill="#000"/>
<rect x="40" y="378" width="1" height="1" fill="#000"/>
<rect x="40" y="380" width="1" height="1" fill="#000"/>
<rect x="40" y="382" width="1" height="1" fill="#000"/>
<rect x="40" y="384" width="1" height="1" fill="#000"/>
<rect x="40" y="386" width="1" height="1" fill="#000"/>
<rect x="40" y="388" width="1" height="1" fill="#000"/>
<rect x="42" y="374" width="1" height="1" fill="#000"/>
<rect x="42" y="376" width="1" height="1" fill="#000"/>
<rect x="42" y="378" width="1" height="1" fill="#000"/>
<rect x="42" y="380" width="1" height="1" fill="#000"/>
<rect x="42" y="382" width="1" height="1" fill="#000"/>
<rect x="42" y="384" width="1" height="1" fill="#000"/>
<rect x="42" y="386" width="1" height="1" fill="#000"/>
<rect x="42" y="388" width="1" height="1" fill="#000"/>
<rect x="22" y="465" width="49" height="27" fill="#000"/>
<rect x="24" y="466.5" width="45" height="23" fill="#fff"/>
<rect x="24" y="466.5" width="7" height="1" fill="#000"/>
<rect x="62" y="466.5" width="7" height="1" fill="#000"/>
<circle cx="24.5" cy="467.5" r="1.3" fill="#fff" stroke="#000" stroke-width="0.8"/>
<circle cx="68" cy="467.5" r="1.3" fill="#fff" stroke="#000" stroke-width="0.8"/>
<circle cx="24.5" cy="489" r="1.3" fill="#fff" stroke="#000" stroke-width="0.8"/>
<circle cx="68" cy="489" r="1.3" fill="#fff" stroke="#000" stroke-width="0.8"/>
<path d="M722 350 H728 V351 H733 V350 H737 V351 H742 V350 H749 L752 351 L754 353 V356 L756 358 V371 L754 373 V375 L751 376.5 H746 V376 H738 V377 H733 V376 H727 V377 H721 L717 376 L715 373 V370 L714 368 V358 L715 356 V353 L718 351 Z" fill="#000"/>
<path d="M722 351.2 H749 L751 352.5 L753 354 V357 L754.8 359 V370 L753 372.5 V374 L750.5 375.3 H721.5 L718 374.8 L716 372.5 V369 L715.2 367 V359 L716 357 V354 L718.5 352.2 Z" fill="#fff"/>
<rect x="716" y="352.5" width="1" height="1" fill="#000"/>
<rect x="716" y="354.5" width="1" height="1" fill="#000"/>
<rect x="716" y="356.5" width="1" height="1" fill="#000"/>
<rect x="716" y="358.5" width="1" height="1" fill="#000"/>
<rect x="716" y="360.5" width="1" height="1" fill="#000"/>
<rect x="716" y="362.5" width="1" height="1" fill="#000"/>
<rect x="716" y="364.5" width="1" height="1" fill="#000"/>
<rect x="716" y="366.5" width="1" height="1" fill="#000"/>
<rect x="716" y="368.5" width="1" height="1" fill="#000"/>
<rect x="716" y="370.5" width="1" height="1" fill="#000"/>
<rect x="716" y="372.5" width="1" height="1" fill="#000"/>
<rect x="716" y="374.5" width="1" height="1" fill="#000"/>
<rect x="718" y="352.5" width="1" height="1" fill="#000"/>
<rect x="718" y="354.5" width="1" height="1" fill="#000"/>
<rect x="718" y="356.5" width="1" height="1" fill="#000"/>
<rect x="718" y="358.5" width="1" height="1" fill="#000"/>
<rect x="718" y="360.5" width="1" height="1" fill="#000"/>
<rect x="718" y="362.5" width="1" height="1" fill="#000"/>
<rect x="718" y="364.5" width="1" height="1" fill="#000"/>
<rect x="718" y="366.5" width="1" height="1" fill="#000"/>
<rect x="718" y="368.5" width="1" height="1" fill="#000"/>
<rect x="718" y="370.5" width="1" height="1" fill="#000"/>
<rect x="718" y="372.5" width="1" height="1" fill="#000"/>
<rect x="718" y="374.5" width="1" height="1" fill="#000"/>
<rect x="720" y="352.5" width="1" height="1" fill="#000"/>
<rect x="720" y="354.5" width="1" height="1" fill="#000"/>
<rect x="720" y="356.5" width="1" height="1" fill="#000"/>
<rect x="720" y="358.5" width="1" height="1" fill="#000"/>
<rect x="720" y="360.5" width="1" height="1" fill="#000"/>
<rect x="720" y="362.5" width="1" height="1" fill="#000"/>
<rect x="720" y="364.5" width="1" height="1" fill="#000"/>
<rect x="720" y="366.5" width="1" height="1" fill="#000"/>
<rect x="720" y="368.5" width="1" height="1" fill="#000"/>
<rect x="720" y="370.5" width="1" height="1" fill="#000"/>
<rect x="720" y="372.5" width="1" height="1" fill="#000"/>
<rect x="720" y="374.5" width="1" height="1" fill="#000"/>
<rect x="722" y="352.5" width="1" height="1" fill="#000"/>
<rect x="722" y="354.5" width="1" height="1" fill="#000"/>
<rect x="722" y="356.5" width="1" height="1" fill="#000"/>
<rect x="722" y="358.5" width="1" height="1" fill="#000"/>
<rect x="722" y="360.5" width="1" height="1" fill="#000"/>
<rect x="722" y="362.5" width="1" height="1" fill="#000"/>
<rect x="722" y="364.5" width="1" height="1" fill="#000"/>
<rect x="722" y="366.5" width="1" height="1" fill="#000"/>
<rect x="722" y="368.5" width="1" height="1" fill="#000"/>
<rect x="722" y="370.5" width="1" height="1" fill="#000"/>
<rect x="722" y="372.5" width="1" height="1" fill="#000"/>
<rect x="722" y="374.5" width="1" height="1" fill="#000"/>
<rect x="724" y="352.5" width="1" height="1" fill="#000"/>
<rect x="724" y="354.5" width="1" height="1" fill="#000"/>
<rect x="724" y="356.5" width="1" height="1" fill="#000"/>
<rect x="724" y="358.5" width="1" height="1" fill="#000"/>
<rect x="724" y="360.5" width="1" height="1" fill="#000"/>
<rect x="724" y="362.5" width="1" height="1" fill="#000"/>
<rect x="724" y="364.5" width="1" height="1" fill="#000"/>
<rect x="724" y="366.5" width="1" height="1" fill="#000"/>
<rect x="724" y="368.5" width="1" height="1" fill="#000"/>
<rect x="724" y="370.5" width="1" height="1" fill="#000"/>
<rect x="724" y="372.5" width="1" height="1" fill="#000"/>
<rect x="724" y="374.5" width="1" height="1" fill="#000"/>
<rect x="726" y="352.5" width="1" height="1" fill="#000"/>
<rect x="726" y="354.5" width="1" height="1" fill="#000"/>
<rect x="726" y="356.5" width="1" height="1" fill="#000"/>
<rect x="726" y="358.5" width="1" height="1" fill="#000"/>
<rect x="726" y="360.5" width="1" height="1" fill="#000"/>
<rect x="726" y="362.5" width="1" height="1" fill="#000"/>
<rect x="726" y="364.5" width="1" height="1" fill="#000"/>
<rect x="726" y="366.5" width="1" height="1" fill="#000"/>
<rect x="726" y="368.5" width="1" height="1" fill="#000"/>
<rect x="726" y="370.5" width="1" height="1" fill="#000"/>
<rect x="726" y="372.5" width="1" height="1" fill="#000"/>
<rect x="726" y="374.5" width="1" height="1" fill="#000"/>
<rect x="728" y="352.5" width="1" height="1" fill="#000"/>
<rect x="728" y="354.5" width="1" height="1" fill="#000"/>
<rect x="728" y="356.5" width="1" height="1" fill="#000"/>
<rect x="728" y="358.5" width="1" height="1" fill="#000"/>
<rect x="728" y="360.5" width="1" height="1" fill="#000"/>
<rect x="728" y="362.5" width="1" height="1" fill="#000"/>
<rect x="728" y="364.5" width="1" height="1" fill="#000"/>
<rect x="728" y="366.5" width="1" height="1" fill="#000"/>
<rect x="728" y="368.5" width="1" height="1" fill="#000"/>
<rect x="728" y="370.5" width="1" height="1" fill="#000"/>
<rect x="728" y="372.5" width="1" height="1" fill="#000"/>
<rect x="728" y="374.5" width="1" height="1" fill="#000"/>
<rect x="730" y="352.5" width="1" height="1" fill="#000"/>
<rect x="730" y="354.5" width="1" height="1" fill="#000"/>
<rect x="730" y="356.5" width="1" height="1" fill="#000"/>
<rect x="730" y="358.5" width="1" height="1" fill="#000"/>
<rect x="730" y="360.5" width="1" height="1" fill="#000"/>
<rect x="730" y="362.5" width="1" height="1" fill="#000"/>
<rect x="730" y="364.5" width="1" height="1" fill="#000"/>
<rect x="730" y="366.5" width="1" height="1" fill="#000"/>
<rect x="730" y="368.5" width="1" height="1" fill="#000"/>
<rect x="730" y="370.5" width="1" height="1" fill="#000"/>
<rect x="730" y="372.5" width="1" height="1" fill="#000"/>
<rect x="730" y="374.5" width="1" height="1" fill="#000"/>
<rect x="732" y="352.5" width="1" height="1" fill="#000"/>
<rect x="732" y="354.5" width="1" height="1" fill="#000"/>
<rect x="732" y="356.5" width="1" height="1" fill="#000"/>
<rect x="732" y="358.5" width="1" height="1" fill="#000"/>
<rect x="732" y="360.5" width="1" height="1" fill="#000"/>
<rect x="732" y="362.5" width="1" height="1" fill="#000"/>
<rect x="732" y="364.5" width="1" height="1" fill="#000"/>
<rect x="732" y="366.5" width="1" height="1" fill="#000"/>
<rect x="732" y="368.5" width="1" height="1" fill="#000"/>
<rect x="732" y="370.5" width="1" height="1" fill="#000"/>
<rect x="732" y="372.5" width="1" height="1" fill="#000"/>
<rect x="732" y="374.5" width="1" height="1" fill="#000"/>
<rect x="734" y="352.5" width="1" height="1" fill="#000"/>
<rect x="734" y="354.5" width="1" height="1" fill="#000"/>
<rect x="734" y="356.5" width="1" height="1" fill="#000"/>
<rect x="734" y="358.5" width="1" height="1" fill="#000"/>
<rect x="734" y="360.5" width="1" height="1" fill="#000"/>
<rect x="734" y="362.5" width="1" height="1" fill="#000"/>
<rect x="734" y="364.5" width="1" height="1" fill="#000"/>
<rect x="734" y="366.5" width="1" height="1" fill="#000"/>
<rect x="734" y="368.5" width="1" height="1" fill="#000"/>
<rect x="734" y="370.5" width="1" height="1" fill="#000"/>
<rect x="734" y="372.5" width="1" height="1" fill="#000"/>
<rect x="734" y="374.5" width="1" height="1" fill="#000"/>
<rect x="736" y="352.5" width="1" height="1" fill="#000"/>
<rect x="736" y="354.5" width="1" height="1" fill="#000"/>
<rect x="736" y="356.5" width="1" height="1" fill="#000"/>
<rect x="736" y="358.5" width="1" height="1" fill="#000"/>
<rect x="736" y="360.5" width="1" height="1" fill="#000"/>
<rect x="736" y="362.5" width="1" height="1" fill="#000"/>
<rect x="736" y="364.5" width="1" height="1" fill="#000"/>
<rect x="736" y="366.5" width="1" height="1" fill="#000"/>
<rect x="736" y="368.5" width="1" height="1" fill="#000"/>
<rect x="736" y="370.5" width="1" height="1" fill="#000"/>
<rect x="736" y="372.5" width="1" height="1" fill="#000"/>
<rect x="736" y="374.5" width="1" height="1" fill="#000"/>
<rect x="738" y="352.5" width="1" height="1" fill="#000"/>
<rect x="738" y="354.5" width="1" height="1" fill="#000"/>
<rect x="738" y="356.5" width="1" height="1" fill="#000"/>
<rect x="738" y="358.5" width="1" height="1" fill="#000"/>
<rect x="738" y="360.5" width="1" height="1" fill="#000"/>
<rect x="738" y="362.5" width="1" height="1" fill="#000"/>
<rect x="738" y="364.5" width="1" height="1" fill="#000"/>
<rect x="738" y="366.5" width="1" height="1" fill="#000"/>
<rect x="738" y="368.5" width="1" height="1" fill="#000"/>
<rect x="738" y="370.5" width="1" height="1" fill="#000"/>
<rect x="738" y="372.5" width="1" height="1" fill="#000"/>
<rect x="738" y="374.5" width="1" height="1" fill="#000"/>
<rect x="740" y="352.5" width="1" height="1" fill="#000"/>
<rect x="740" y="354.5" width="1" height="1" fill="#000"/>
<rect x="740" y="356.5" width="1" height="1" fill="#000"/>
<rect x="740" y="358.5" width="1" height="1" fill="#000"/>
<rect x="740" y="360.5" width="1" height="1" fill="#000"/>
<rect x="740" y="362.5" width="1" height="1" fill="#000"/>
<rect x="740" y="364.5" width="1" height="1" fill="#000"/>
<rect x="740" y="366.5" width="1" height="1" fill="#000"/>
<rect x="740" y="368.5" width="1" height="1" fill="#000"/>
<rect x="740" y="370.5" width="1" height="1" fill="#000"/>
<rect x="740" y="372.5" width="1" height="1" fill="#000"/>
<rect x="740" y="374.5" width="1" height="1" fill="#000"/>
<rect x="742" y="352.5" width="1" height="1" fill="#000"/>
<rect x="742" y="354.5" width="1" height="1" fill="#000"/>
<rect x="742" y="356.5" width="1" height="1" fill="#000"/>
<rect x="742" y="358.5" width="1" height="1" fill="#000"/>
<rect x="742" y="360.5" width="1" height="1" fill="#000"/>
<rect x="742" y="362.5" width="1" height="1" fill="#000"/>
<rect x="742" y="364.5" width="1" height="1" fill="#000"/>
<rect x="742" y="366.5" width="1" height="1" fill="#000"/>
<rect x="742" y="368.5" width="1" height="1" fill="#000"/>
<rect x="742" y="370.5" width="1" height="1" fill="#000"/>
<rect x="742" y="372.5" width="1" height="1" fill="#000"/>
<rect x="742" y="374.5" width="1" height="1" fill="#000"/>
<rect x="744" y="352.5" width="1" height="1" fill="#000"/>
<rect x="744" y="354.5" width="1" height="1" fill="#000"/>
<rect x="744" y="356.5" width="1" height="1" fill="#000"/>
<rect x="744" y="358.5" width="1" height="1" fill="#000"/>
<rect x="744" y="360.5" width="1" height="1" fill="#000"/>
<rect x="744" y="362.5" width="1" height="1" fill="#000"/>
<rect x="744" y="364.5" width="1" height="1" fill="#000"/>
<rect x="744" y="366.5" width="1" height="1" fill="#000"/>
<rect x="744" y="368.5" width="1" height="1" fill="#000"/>
<rect x="744" y="370.5" width="1" height="1" fill="#000"/>
<rect x="744" y="372.5" width="1" height="1" fill="#000"/>
<rect x="744" y="374.5" width="1" height="1" fill="#000"/>
<rect x="746" y="352.5" width="1" height="1" fill="#000"/>
<rect x="746" y="354.5" width="1" height="1" fill="#000"/>
<rect x="746" y="356.5" width="1" height="1" fill="#000"/>
<rect x="746" y="358.5" width="1" height="1" fill="#000"/>
<rect x="746" y="360.5" width="1" height="1" fill="#000"/>
<rect x="746" y="362.5" width="1" height="1" fill="#000"/>
<rect x="746" y="364.5" width="1" height="1" fill="#000"/>
<rect x="746" y="366.5" width="1" height="1" fill="#000"/>
<rect x="746" y="368.5" width="1" height="1" fill="#000"/>
<rect x="746" y="370.5" width="1" height="1" fill="#000"/>
<rect x="746" y="372.5" width="1" height="1" fill="#000"/>
<rect x="746" y="374.5" width="1" height="1" fill="#000"/>
<rect x="748" y="352.5" width="1" height="1" fill="#000"/>
<rect x="748" y="354.5" width="1" height="1" fill="#000"/>
<rect x="748" y="356.5" width="1" height="1" fill="#000"/>
<rect x="748" y="358.5" width="1" height="1" fill="#000"/>
<rect x="748" y="360.5" width="1" height="1" fill="#000"/>
<rect x="748" y="362.5" width="1" height="1" fill="#000"/>
<rect x="748" y="364.5" width="1" height="1" fill="#000"/>
<rect x="748" y="366.5" width="1" height="1" fill="#000"/>
<rect x="748" y="368.5" width="1" height="1" fill="#000"/>
<rect x="748" y="370.5" width="1" height="1" fill="#000"/>
<rect x="748" y="372.5" width="1" height="1" fill="#000"/>
<rect x="748" y="374.5" width="1" height="1" fill="#000"/>
<rect x="750" y="352.5" width="1" height="1" fill="#000"/>
<rect x="750" y="354.5" width="1" height="1" fill="#000"/>
<rect x="750" y="356.5" width="1" height="1" fill="#000"/>
<rect x="750" y="358.5" width="1" height="1" fill="#000"/>
<rect x="750" y="360.5" width="1" height="1" fill="#000"/>
<rect x="750" y="362.5" width="1" height="1" fill="#000"/>
<rect x="750" y="364.5" width="1" height="1" fill="#000"/>
<rect x="750" y="366.5" width="1" height="1" fill="#000"/>
<rect x="750" y="368.5" width="1" height="1" fill="#000"/>
<rect x="750" y="370.5" width="1" height="1" fill="#000"/>
<rect x="750" y="372.5" width="1" height="1" fill="#000"/>
<rect x="750" y="374.5" width="1" height="1" fill="#000"/>
<rect x="752" y="352.5" width="1" height="1" fill="#000"/>
<rect x="752" y="354.5" width="1" height="1" fill="#000"/>
<rect x="752" y="356.5" width="1" height="1" fill="#000"/>
<rect x="752" y="358.5" width="1" height="1" fill="#000"/>
<rect x="752" y="360.5" width="1" height="1" fill="#000"/>
<rect x="752" y="362.5" width="1" height="1" fill="#000"/>
<rect x="752" y="364.5" width="1" height="1" fill="#000"/>
<rect x="752" y="366.5" width="1" height="1" fill="#000"/>
<rect x="752" y="368.5" width="1" height="1" fill="#000"/>
<rect x="752" y="370.5" width="1" height="1" fill="#000"/>
<rect x="752" y="372.5" width="1" height="1" fill="#000"/>
<rect x="752" y="374.5" width="1" height="1" fill="#000"/>
<rect x="754" y="352.5" width="1" height="1" fill="#000"/>
<rect x="754" y="354.5" width="1" height="1" fill="#000"/>
<rect x="754" y="356.5" width="1" height="1" fill="#000"/>
<rect x="754" y="358.5" width="1" height="1" fill="#000"/>
<rect x="754" y="360.5" width="1" height="1" fill="#000"/>
<rect x="754" y="362.5" width="1" height="1" fill="#000"/>
<rect x="754" y="364.5" width="1" height="1" fill="#000"/>
<rect x="754" y="366.5" width="1" height="1" fill="#000"/>
<rect x="754" y="368.5" width="1" height="1" fill="#000"/>
<rect x="754" y="370.5" width="1" height="1" fill="#000"/>
<rect x="754" y="372.5" width="1" height="1" fill="#000"/>
<rect x="754" y="374.5" width="1" height="1" fill="#000"/>
<rect x="195" y="194" width="19" height="7" fill="#000"/>
<rect x="201" y="195" width="1" height="5" fill="#fff"/>
<rect x="207" y="195" width="1" height="5" fill="#fff"/>
<rect x="212" y="195" width="1" height="5" fill="#fff"/>
<rect x="197" y="195" width="4" height="5" fill="#fff"/>
<rect x="198" y="196" width="2" height="3" fill="#000"/>
<rect x="195" y="206" width="19" height="7" fill="#000"/>
<rect x="196" y="207" width="17" height="1" fill="#fff"/>
<rect x="196" y="207" width="1" height="5" fill="#fff"/>
<rect x="201" y="207" width="1" height="5" fill="#fff"/>
<rect x="207" y="207" width="1" height="5" fill="#fff"/>
<rect x="212" y="207" width="1" height="5" fill="#fff"/>
<rect x="197" y="207" width="4" height="5" fill="#fff"/>
<rect x="198" y="208" width="2" height="3" fill="#000"/>
<rect x="222" y="194" width="19" height="7" fill="#000"/>
<rect x="228.5" y="195" width="1" height="5" fill="#fff"/>
<rect x="234" y="195" width="1" height="5" fill="#fff"/>
<rect x="223" y="195" width="1" height="5" fill="#fff"/>
<rect x="224.5" y="195" width="4" height="5" fill="#fff"/>
<rect x="225.5" y="196" width="2" height="3" fill="#000"/>
<rect x="222" y="206" width="19" height="7" fill="#000"/>
<rect x="223" y="207" width="17" height="1" fill="#fff"/>
<rect x="223" y="207" width="1" height="5" fill="#fff"/>
<rect x="228" y="207" width="1" height="5" fill="#fff"/>
<rect x="234" y="207" width="1" height="5" fill="#fff"/>
<rect x="224" y="207" width="4" height="5" fill="#fff"/>
<rect x="225" y="208" width="2" height="3" fill="#000"/>
<rect x="249" y="194" width="19" height="7" fill="#000"/>
<rect x="255.5" y="195" width="1" height="5" fill="#fff"/>
<rect x="261" y="195" width="1" height="5" fill="#fff"/>
<rect x="250" y="195" width="1" height="5" fill="#fff"/>
<rect x="251.5" y="195" width="4" height="5" fill="#fff"/>
<rect x="252.5" y="196" width="2" height="3" fill="#000"/>
<rect x="249" y="206" width="19" height="7" fill="#000"/>
<rect x="250" y="207" width="17" height="1" fill="#fff"/>
<rect x="250" y="207" width="1" height="5" fill="#fff"/>
<rect x="255" y="207" width="1" height="5" fill="#fff"/>
<rect x="261" y="207" width="1" height="5" fill="#fff"/>
<rect x="251" y="207" width="4" height="5" fill="#fff"/>
<rect x="252" y="208" width="2" height="3" fill="#000"/>
<rect x="294" y="166" width="7" height="19" fill="#000"/>
<rect x="295" y="167" width="5" height="1" fill="#fff"/>
<rect x="295" y="168" width="4" height="5" fill="#fff"/>
<rect x="296" y="169" width="2" height="3" fill="#000"/>
<rect x="295" y="174" width="5" height="1" fill="#fff"/>
<rect x="295" y="179" width="5" height="1" fill="#fff"/>
<rect x="13" y="234" width="37" height="6" fill="#000"/>
<rect x="19" y="235" width="1" height="4" fill="#fff"/>
<rect x="25" y="235" width="1" height="4" fill="#fff"/>
<rect x="31" y="235" width="1" height="4" fill="#fff"/>
<rect x="37" y="235" width="1" height="4" fill="#fff"/>
<rect x="43" y="235" width="1" height="4" fill="#fff"/>
<rect x="48" y="235" width="1" height="4" fill="#fff"/>
<rect x="14.5" y="235" width="4" height="4" fill="#fff"/>
<rect x="15.5" y="236" width="2" height="2" fill="#000"/>
<rect x="12" y="279" width="31" height="7" fill="#000"/>
<rect x="24" y="280" width="1" height="5" fill="#fff"/>
<rect x="30" y="280" width="1" height="5" fill="#fff"/>
<rect x="36" y="280" width="1" height="5" fill="#fff"/>
<rect x="14" y="280" width="4" height="5" fill="#fff"/>
<rect x="15" y="281" width="2" height="3" fill="#000"/>
<rect x="48" y="279" width="14" height="7" fill="#000"/>
<rect x="50" y="280" width="1" height="5" fill="#fff"/>
<rect x="55" y="280" width="1" height="5" fill="#fff"/>
<rect x="59" y="280" width="1" height="5" fill="#fff"/>
<rect x="12" y="294" width="26" height="6" fill="#000"/>
<rect x="21" y="295" width="1" height="4" fill="#fff"/>
<rect x="27" y="295" width="1" height="4" fill="#fff"/>
<rect x="33" y="295" width="1" height="4" fill="#fff"/>
<rect x="14" y="295" width="4" height="4" fill="#fff"/>
<rect x="15" y="296" width="2" height="2" fill="#000"/>
<rect x="41" y="294" width="14" height="6" fill="#000"/>
<rect x="43" y="295" width="1" height="4" fill="#fff"/>
<rect x="48" y="295" width="1" height="4" fill="#fff"/>
<rect x="52" y="295" width="1" height="4" fill="#fff"/>
<rect x="59" y="294" width="14" height="6" fill="#000"/>
<rect x="61" y="295" width="1" height="4" fill="#fff"/>
<rect x="66" y="295" width="1" height="4" fill="#fff"/>
<rect x="70" y="295" width="1" height="4" fill="#fff"/>
<rect x="626" y="352" width="26" height="7" fill="#000"/>
<rect x="627" y="353" width="24" height="1" fill="#fff"/>
<rect x="627" y="353" width="1" height="5" fill="#fff"/>
<rect x="634" y="353" width="1" height="5" fill="#fff"/>
<rect x="640" y="353" width="1" height="5" fill="#fff"/>
<rect x="646" y="353" width="1" height="5" fill="#fff"/>
<rect x="628" y="353" width="4" height="5" fill="#fff"/>
<rect x="629" y="354" width="2" height="3" fill="#000"/>
<rect x="693" y="362" width="7" height="19" fill="#000"/>
<rect x="698" y="363" width="1" height="17" fill="#fff"/>
<rect x="694" y="363" width="5" height="1" fill="#fff"/>
<rect x="694" y="364" width="4" height="5" fill="#fff"/>
<rect x="695" y="365" width="2" height="3" fill="#000"/>
<rect x="694" y="370" width="5" height="1" fill="#fff"/>
<rect x="694" y="375" width="5" height="1" fill="#fff"/>
<rect x="452" y="464" width="7" height="19" fill="#000"/>
<rect x="457" y="465" width="1" height="17" fill="#fff"/>
<rect x="453" y="465" width="5" height="1" fill="#fff"/>
<rect x="453" y="466" width="4" height="5" fill="#fff"/>
<rect x="454" y="467" width="2" height="3" fill="#000"/>
<rect x="453" y="472" width="5" height="1" fill="#fff"/>
<rect x="453" y="477" width="5" height="1" fill="#fff"/>
<rect x="469" y="464" width="7" height="19" fill="#000"/>
<rect x="474" y="465" width="1" height="17" fill="#fff"/>
<rect x="470" y="465" width="5" height="1" fill="#fff"/>
<rect x="470" y="466" width="4" height="5" fill="#fff"/>
<rect x="471" y="467" width="2" height="3" fill="#000"/>
<rect x="470" y="472" width="5" height="1" fill="#fff"/>
<rect x="470" y="477" width="5" height="1" fill="#fff"/>
<rect x="499" y="464" width="7" height="19" fill="#000"/>
<rect x="500" y="465" width="5" height="1" fill="#fff"/>
<rect x="500" y="466" width="4" height="5" fill="#fff"/>
<rect x="501" y="467" width="2" height="3" fill="#000"/>
<rect x="500" y="472" width="5" height="1" fill="#fff"/>
<rect x="500" y="477" width="5" height="1" fill="#fff"/>
<rect x="571" y="503" width="19" height="6" fill="#000"/>
<rect x="577" y="504" width="1" height="4" fill="#fff"/>
<rect x="583" y="504" width="1" height="4" fill="#fff"/>
<rect x="588" y="504" width="1" height="4" fill="#fff"/>
<rect x="572" y="504" width="1" height="4" fill="#fff"/>
<rect x="573" y="504" width="4" height="4" fill="#fff"/>
<rect x="574" y="505" width="2" height="2" fill="#000"/>
<path d="M159 192 H179 L182 195 V208 L179 211 H159 L156 208 V195 Z" fill="#000"/>
<path d="M159 194 H178.5 L179.5 195 V207.5 L178.5 208.5 H159 L158 207.5 V195 Z" fill="#fff"/>
<path d="M182 197.5 L195 197.5 L182 204 Z" fill="#000"/>
<path d="M179.09 200.18 L186.55 199.61 L179.09 202.78 Z" fill="#fff"/>
<path d="M270 172.5 H289 L292 175.5 V187.5 L289 190.5 H270 L267 187.5 V175.5 Z" fill="#000"/>
<path d="M270 174.5 H288.5 L289.5 175.5 V187.0 L288.5 188.0 H270 L269 187.0 V175.5 Z" fill="#fff"/>
<path d="M268 180 L229 195 L268 190.5 Z" fill="#000"/>
<path d="M270.91 182.42 L254.35 188.66 L270.91 186.62 Z" fill="#fff"/>
<path d="M284 192 H304 L307 195 V207.5 L304 210.5 H284 L281 207.5 V195 Z" fill="#000"/>
<path d="M284 194 H303.5 L304.5 195 V207.0 L303.5 208.0 H284 L283 207.0 V195 Z" fill="#fff"/>
<path d="M282 196.5 L268 197.5 L282 203 Z" fill="#000"/>
<path d="M284.96 198.93 L277.10 198.96 L284.96 201.53 Z" fill="#fff"/>
<path d="M320.5 172 H340.5 L343.5 175 V187.5 L340.5 190.5 H320.5 L317.5 187.5 V175 Z" fill="#000"/>
<path d="M320.5 174 H340.0 L341.0 175 V187.0 L340.0 188.0 H320.5 L319.5 187.0 V175 Z" fill="#fff"/>
<path d="M318 178 L302 176 L318 185 Z" fill="#000"/>
<path d="M320.84 181.08 L312.40 179.57 L320.84 183.88 Z" fill="#fff"/>
<path d="M190 232 H214 L217 235 V248 L214 251 H190 L187 248 V235 Z" fill="#000"/>
<path d="M190 234 H213.5 L214.5 235 V247.5 L213.5 248.5 H190 L189 247.5 V235 Z" fill="#fff"/>
<path d="M199 233 L203.5 214 L205 233 Z" fill="#000"/>
<path d="M200.56 235.99 L202.53 226.35 L202.96 235.99 Z" fill="#fff"/>
<path d="M222 232 H246 L249 235 V248 L246 251 H222 L219 248 V235 Z" fill="#000"/>
<path d="M222 234 H245.5 L246.5 235 V247.5 L245.5 248.5 H222 L221 247.5 V235 Z" fill="#fff"/>
<path d="M230 233 L232 214 L236.5 233 Z" fill="#000"/>
<path d="M232.15 235.99 L232.81 226.35 L234.75 235.99 Z" fill="#fff"/>
<path d="M254 232 H278 L281 235 V248 L278 251 H254 L251 248 V235 Z" fill="#000"/>
<path d="M254 234 H277.5 L278.5 235 V247.5 L277.5 248.5 H254 L253 247.5 V235 Z" fill="#fff"/>
<path d="M263 233 L260.5 214 L269.5 233 Z" fill="#000"/>
<path d="M265.82 235.87 L264.24 226.35 L268.42 235.87 Z" fill="#fff"/>
<path d="M20 198 H45 L48 201 V213.5 L45 216.5 H20 L17 213.5 V201 Z" fill="#000"/>
<path d="M20 200 H44.5 L45.5 201 V213.0 L44.5 214.0 H20 L19 213.0 V201 Z" fill="#fff"/>
<path d="M29 215 L30 234 L36 215 Z" fill="#000"/>
<path d="M31.49 212.03 L31.62 221.65 L34.29 212.03 Z" fill="#fff"/>
<path d="M17 243 H42 L45 246 V258 L42 261 H17 L14 258 V246 Z" fill="#000"/>
<path d="M17 245 H41.5 L42.5 246 V257.5 L41.5 258.5 H17 L16 257.5 V246 Z" fill="#fff"/>
<path d="M27 260 L27.5 279 L33 260 Z" fill="#000"/>
<path d="M29.19 257.03 L29.12 266.65 L31.59 257.03 Z" fill="#fff"/>
<path d="M52 243 H76 L79 246 V258 L76 261 H52 L49 258 V246 Z" fill="#000"/>
<path d="M52 245 H75.5 L76.5 246 V257.5 L75.5 258.5 H52 L51 257.5 V246 Z" fill="#fff"/>
<path d="M60 260 L55 279 L67 260 Z" fill="#000"/>
<path d="M63.33 257.26 L60.52 266.65 L66.13 257.26 Z" fill="#fff"/>
<path d="M17 319 H41.6 L44.6 322 V334.7 L41.6 337.7 H17 L14 334.7 V322 Z" fill="#000"/>
<path d="M17 321 H41.1 L42.1 322 V334.2 L41.1 335.2 H17 L16 334.2 V322 Z" fill="#fff"/>
<path d="M26 320 L27 300 L32 320 Z" fill="#000"/>
<path d="M28.10 322.99 L28.30 313.00 L30.50 322.99 Z" fill="#fff"/>
<path d="M52 319 H76.7 L79.7 322 V334.7 L76.7 337.7 H52 L49 334.7 V322 Z" fill="#000"/>
<path d="M52 321 H76.2 L77.2 322 V334.2 L76.2 335.2 H52 L51 334.2 V322 Z" fill="#fff"/>
<path d="M59 320 L50 301 L66 320 Z" fill="#000"/>
<path d="M62.75 322.51 L58.12 313.35 L65.55 322.51 Z" fill="#fff"/>
<path d="M92.5 286 H112.5 L115.5 289 V300 L112.5 303 H92.5 L89.5 300 V289 Z" fill="#000"/>
<path d="M92.5 288 H112.0 L113.0 289 V299.5 L112.0 300.5 H92.5 L91.5 299.5 V289 Z" fill="#fff"/>
<path d="M90 291 L73 297 L90 299 Z" fill="#000"/>
<path d="M92.98 293.05 L84.05 295.70 L92.98 296.25 Z" fill="#fff"/>
<path d="M628 379 H653 L656 382 V394 L653 397 H628 L625 394 V382 Z" fill="#000"/>
<path d="M628 381 H652.5 L653.5 382 V393.5 L652.5 394.5 H628 L627 393.5 V382 Z" fill="#fff"/>
<path d="M636 380 L639 359 L642 380 Z" fill="#000"/>
<path d="M637.80 383.00 L639.00 372.65 L640.20 383.00 Z" fill="#fff"/>
<path d="M683 403.5 H711.5 L714.5 406.5 V418 L711.5 421 H683 L680 418 V406.5 Z" fill="#000"/>
<path d="M683 405.5 H711.0 L712.0 406.5 V417.5 L711.0 418.5 H683 L682 417.5 V406.5 Z" fill="#fff"/>
<path d="M694 404 L696 381 L700 404 Z" fill="#000"/>
<path d="M695.93 407.00 L696.65 395.95 L698.33 407.00 Z" fill="#fff"/>
<path d="M456.5 426 H480.5 L483.5 429 V441.3 L480.5 444.3 H456.5 L453.5 441.3 V429 Z" fill="#000"/>
<path d="M456.5 428 H480.0 L481.0 429 V440.8 L480.0 441.8 H456.5 L455.5 440.8 V429 Z" fill="#fff"/>
<path d="M466 443 L471.5 464 L473 443 Z" fill="#000"/>
<path d="M467.82 440.01 L470.20 450.35 L470.62 440.01 Z" fill="#fff"/>
<path d="M490.5 426 H518.5 L521.5 429 V441.3 L518.5 444.3 H490.5 L487.5 441.3 V429 Z" fill="#000"/>
<path d="M490.5 428 H518.0 L519.0 429 V440.8 L518.0 441.8 H490.5 L489.5 440.8 V429 Z" fill="#fff"/>
<path d="M500 443 L503 464 L507 443 Z" fill="#000"/>
<path d="M502.17 440.00 L503.32 450.35 L504.97 440.00 Z" fill="#fff"/>
<path d="M406 465 H433.2 L436.2 468 V480.7 L433.2 483.7 H406 L403 480.7 V468 Z" fill="#000"/>
<path d="M406 467 H432.7 L433.7 468 V480.2 L432.7 481.2 H406 L405 480.2 V468 Z" fill="#fff"/>
<path d="M435 471 L452 473.5 L435 477 Z" fill="#000"/>
<path d="M432.00 472.89 L440.95 473.82 L432.00 475.29 Z" fill="#fff"/>
<path d="M525.5 497 H551.8 L554.8 500 V511.20000000000005 L551.8 514.2 H525.5 L522.5 511.20000000000005 V500 Z" fill="#000"/>
<path d="M525.5 499 H551.3 L552.3 500 V510.70000000000005 L551.3 511.70000000000005 H525.5 L524.5 510.70000000000005 V500 Z" fill="#fff"/>
<path d="M554 502 L571 505.5 L554 509 Z" fill="#000"/>
<path d="M551.00 504.10 L559.95 505.50 L551.00 506.90 Z" fill="#fff"/>
</g>
<g shape-rendering="crispEdges">
<path d="M611.5 48.5 V40.5 L614.5 45.8333 L617.5 40.5 V48.5" fill="none" stroke="#000" stroke-width="1" stroke-linecap="square"/>
<path d="M612.5 40.5 V48.5" fill="none" stroke="#000" stroke-width="1" stroke-linecap="square"/>
<path d="M621.5 40.5 V48.5 M626.5 40.5 V48.5 M621.5 44.0556 H626.5" fill="none" stroke="#000" stroke-width="1" stroke-linecap="square"/>
<path d="M630.5 41.5 L632.5 43.0556 V46.9444 L630.5 48.5 L628.5 46.9444 V43.0556 Z" fill="none" stroke="#000" stroke-width="1" stroke-linecap="square"/>
<path d="M637.5 41.5 L639.5 43.0556 V46.9444 L637.5 48.5 L635.5 46.9444 V43.0556 Z" fill="none" stroke="#000" stroke-width="1" stroke-linecap="square"/>
<path d="M646.5 41.5 H642.5 V44.6111 H645.7 L646.5 45.3889 V47.7222 L645.7 48.5 H643.3 L642.5 47.7222" fill="none" stroke="#000" stroke-width="1" stroke-linecap="square"/>
<path d="M650.5 41.5 L652.5 43.0556 V46.9444 L650.5 48.5 L648.5 46.9444 V43.0556 Z" fill="none" stroke="#000" stroke-width="1" stroke-linecap="square"/>
<path d="M129.5 41.5 H133.5 L134.5 42.5 V44.5 L133.5 45.5 H129.5 M133.5 45.5 L134.5 46.5 V49.5 L133.5 50.5 H129.5 V41.5 M138.5 50.5 L141.5 41.5 L144.5 50.5 M139.5 47.5 H143.5 M148.5 50.5 V41.5 L153.5 50.5 V41.5 M157.5 41.5 V50.5 M162.5 41.5 L157.5 47.5 M159.5 45.5 L162.5 50.5 M169.5 42.5 L170.5 41.5 H173.5 L174.5 42.5 V44.5 L169.5 49.5 V50.5 H174.5" fill="none" stroke="#000" stroke-width="1" stroke-linecap="square"/>
<path d="M128.5 81.5 H132.5 L133.5 82.5 V84.5 L132.5 85.5 H128.5 M132.5 85.5 L133.5 86.5 V89.5 L132.5 90.5 H128.5 V81.5 M137.5 90.5 L140.5 81.5 L143.5 90.5 M138.5 87.5 H142.5 M147.5 90.5 V81.5 L152.5 90.5 V81.5 M157.5 81.5 V90.5 M162.5 81.5 L157.5 87.5 M159.5 85.5 L162.5 90.5 M169.5 82.5 L170.5 81.5 H173.5 L174.5 82.5 V84.5 L173.5 85.5 H171.5 M173.5 85.5 L174.5 86.5 V89.5 L173.5 90.5 H170.5 L169.5 89.5" fill="none" stroke="#000" stroke-width="1" stroke-linecap="square"/>
<path d="M79.5 133.5 H83.5 L84.5 134.5 V136.5 L83.5 137.5 H79.5 M83.5 137.5 L84.5 138.5 V141.5 L83.5 142.5 H79.5 V133.5 M88.5 142.5 L91.5 133.5 L94.5 142.5 M89.5 139.5 H93.5 M98.5 142.5 V133.5 L103.5 142.5 V133.5 M108.5 133.5 V142.5 M113.5 133.5 L108.5 139.5 M110.5 137.5 L113.5 142.5 M122.5 133.5 L124.5 135.5 V140.5 L122.5 142.5 L120.5 140.5 V135.5 Z" fill="none" stroke="#000" stroke-width="1" stroke-linecap="square"/>
<path d="M83.5 176.5 V167.5 H87.5 L88.5 168.5 V171.5 L87.5 172.5 H83.5 M92.5 172.5 H94.5 M99.5 167.5 L101.5 169.5 V174.5 L99.5 176.5 L97.5 174.5 V169.5 Z" fill="none" stroke="#000" stroke-width="1" stroke-linecap="square"/>
<path d="M206.5 133.5 H210.5 L211.5 134.5 V136.5 L210.5 137.5 H206.5 M210.5 137.5 L211.5 138.5 V141.5 L210.5 142.5 H206.5 V133.5 M215.5 142.5 L218.5 133.5 L221.5 142.5 M216.5 139.5 H220.5 M225.5 142.5 V133.5 L230.5 142.5 V133.5 M235.5 133.5 V142.5 M240.5 133.5 L235.5 139.5 M237.5 137.5 L240.5 142.5 M247.5 135.5 L249.5 133.5 V142.5" fill="none" stroke="#000" stroke-width="1" stroke-linecap="square"/>
<path d="M213.5 177.5 V168.5 H217.5 L218.5 169.5 V172.5 L217.5 173.5 H213.5 M222.5 173.5 H224.5 M227.5 170.5 L229.5 168.5 V177.5" fill="none" stroke="#000" stroke-width="1" stroke-linecap="square"/>
<path d="M314.5 97.5 H318.5 L319.5 98.5 V100.5 L318.5 101.5 H314.5 M318.5 101.5 L319.5 102.5 V105.5 L318.5 106.5 H314.5 V97.5 M323.5 97.5 V106.5 M329.5 97.5 H332.5 L333.5 98.5 V105.5 L332.5 106.5 H329.5 L328.5 105.5 V98.5 Z M342.5 98.5 L341.5 97.5 H338.5 L337.5 98.5 V100.5 L338.5 101.5 H341.5 L342.5 102.5 V105.5 L341.5 106.5 H338.5 L337.5 105.5 M349.5 97.5 L346.5 106.5 M354.5 97.5 H357.5 L358.5 98.5 V105.5 L357.5 106.5 H354.5 L353.5 105.5 V98.5 Z M363.5 97.5 H367.5 L368.5 98.5 V105.5 L367.5 106.5 H363.5 Z M372.5 97.5 H376.5 L377.5 98.5 V105.5 L376.5 106.5 H372.5 Z" fill="none" stroke="#000" stroke-width="1" stroke-linecap="square"/>
<path d="M311.5 143.5 H315.5 L316.5 144.5 V146.5 L315.5 147.5 H311.5 M315.5 147.5 L316.5 148.5 V151.5 L315.5 152.5 H311.5 V143.5 M320.5 143.5 V152.5 M325.5 143.5 H328.5 L329.5 144.5 V151.5 L328.5 152.5 H325.5 L324.5 151.5 V144.5 Z M337.5 144.5 L336.5 143.5 H333.5 L332.5 144.5 V146.5 L333.5 147.5 H336.5 L337.5 148.5 V151.5 L336.5 152.5 H333.5 L332.5 151.5 M344.5 143.5 L341.5 152.5 M353.5 143.5 H348.5 V152.5 H353.5 M348.5 147.5 H352.5 M356.5 143.5 L359.5 152.5 L362.5 143.5 M371.5 143.5 H366.5 V152.5 H371.5 M366.5 147.5 H370.5 M375.5 152.5 V143.5 L380.5 152.5 V143.5" fill="none" stroke="#000" stroke-width="1" stroke-linecap="square"/>
<path d="M222.5 338.5 L221.5 337.5 H218.5 L217.5 338.5 V345.5 L218.5 346.5 H221.5 L222.5 345.5 M227.5 346.5 V337.5 H231.5 L232.5 338.5 V341.5 L231.5 342.5 H227.5 M237.5 337.5 V345.5 L238.5 346.5 H241.5 L242.5 345.5 V337.5" fill="none" stroke="#000" stroke-width="1" stroke-linecap="square"/>
<path d="M312.5 336.5 V326.5 L317.5 336.5 V326.5 M322.5 336.5 V326.5 H326.5 L327.5 327.611 V330.944 L326.5 332.056 H322.5 M332.5 326.5 V335.389 L333.5 336.5 H336.5 L337.5 335.389 V326.5" fill="none" stroke="#000" stroke-width="1" stroke-linecap="square"/>
<path d="M615.5 457.5 V466.5 M620.5 457.5 L615.5 463.5 M617.5 461.5 L620.5 466.5 M625.5 457.5 H629.5 L630.5 458.5 V460.5 L629.5 461.5 H625.5 M629.5 461.5 L630.5 462.5 V465.5 L629.5 466.5 H625.5 V457.5 M635.5 457.5 H639.5 L640.5 458.5 V465.5 L639.5 466.5 H635.5 Z" fill="none" stroke="#000" stroke-width="1" stroke-linecap="square"/>
<path d="M159.5 195.5 L160.5 201.5 L161.5 204.5 L162.5 201.5 L163.5 195.5 L164.5 201.5 L165.5 204.5 L166.5 201.5 L167.5 195.5" fill="none" stroke="#000" stroke-width="1" stroke-linecap="square"/>
<path d="M172.5 197.5 L174.5 195.5 V204.5" fill="none" stroke="#000" stroke-width="1" stroke-linecap="square"/>
<path d="M269.5 176.5 L270.5 182.5 L271.5 185.5 L272.5 182.5 L273.5 176.5 L274.5 182.5 L275.5 185.5 L276.5 182.5 L277.5 176.5" fill="none" stroke="#000" stroke-width="1" stroke-linecap="square"/>
<path d="M281.5 177.5 L282.5 176.5 H285.5 L286.5 177.5 V179.5 L285.5 180.5 H283.5 M285.5 180.5 L286.5 181.5 V184.5 L285.5 185.5 H282.5 L281.5 184.5" fill="none" stroke="#000" stroke-width="1" stroke-linecap="square"/>
<path d="M284.5 195.5 L285.625 201.5 L286.75 204.5 L287.875 201.5 L289 195.5 L290.125 201.5 L291.25 204.5 L292.375 201.5 L293.5 195.5" fill="none" stroke="#000" stroke-width="1" stroke-linecap="square"/>
<path d="M301.5 195.5 H296.5 V199.5 H300.5 L301.5 200.5 V203.5 L300.5 204.5 H297.5 L296.5 203.5" fill="none" stroke="#000" stroke-width="1" stroke-linecap="square"/>
<path d="M321.5 176.5 L322.5 182.5 L323.5 185.5 L324.5 182.5 L325.5 176.5 L326.5 182.5 L327.5 185.5 L328.5 182.5 L329.5 176.5" fill="none" stroke="#000" stroke-width="1" stroke-linecap="square"/>
<path d="M333.5 176.5 H339.5 V177.5 L335.9 185.5" fill="none" stroke="#000" stroke-width="1" stroke-linecap="square"/>
<path d="M193.5 236.5 L194.375 242.5 L195.25 245.5 L196.125 242.5 L197 236.5 L197.875 242.5 L198.75 245.5 L199.625 242.5 L200.5 236.5" fill="none" stroke="#000" stroke-width="1" stroke-linecap="square"/>
<path d="M203.5 237.5 L204.7 236.5 H208.3 L209.5 237.5 V239.5 L203.5 244.5 V245.5 H209.5" fill="none" stroke="#000" stroke-width="1" stroke-linecap="square"/>
<path d="M226.5 236.5 L227.375 242.5 L228.25 245.5 L229.125 242.5 L230 236.5 L230.875 242.5 L231.75 245.5 L232.625 242.5 L233.5 236.5" fill="none" stroke="#000" stroke-width="1" stroke-linecap="square"/>
<path d="M241.5 245.5 V236.5 L237.5 242.5 V243.5 H242.5" fill="none" stroke="#000" stroke-width="1" stroke-linecap="square"/>
<path d="M258.5 236.5 L259.375 242.5 L260.25 245.5 L261.125 242.5 L262 236.5 L262.875 242.5 L263.75 245.5 L264.625 242.5 L265.5 236.5" fill="none" stroke="#000" stroke-width="1" stroke-linecap="square"/>
<path d="M275.5 237.5 L274.5 236.5 H271.5 L270.5 237.5 V244.5 L271.5 245.5 H274.5 L275.5 244.5 V241.5 L274.5 240.5 H270.5" fill="none" stroke="#000" stroke-width="1" stroke-linecap="square"/>
<path d="M30.5 201.5 V209.5 L29.5 210.5 H27.5 L26.5 209.5 V208.5" fill="none" stroke="#000" stroke-width="1" stroke-linecap="square"/>
<path d="M34.5 203.5 L36.5 201.5 V210.5" fill="none" stroke="#000" stroke-width="1" stroke-linecap="square"/>
<path d="M26.5 247.5 V255.5 L25.75 256.5 H24.25 L23.5 255.5 V254.5" fill="none" stroke="#000" stroke-width="1" stroke-linecap="square"/>
<path d="M29.5 248.5 L30.7 247.5 H34.3 L35.5 248.5 V250.5 L29.5 255.5 V256.5 H35.5" fill="none" stroke="#000" stroke-width="1" stroke-linecap="square"/>
<path d="M62.5 247.5 V255.5 L61.5 256.5 H59.5 L58.5 255.5 V254.5" fill="none" stroke="#000" stroke-width="1" stroke-linecap="square"/>
<path d="M65.5 248.5 L66.5 247.5 H69.5 L70.5 248.5 V250.5 L69.5 251.5 H67.5 M69.5 251.5 L70.5 252.5 V255.5 L69.5 256.5 H66.5 L65.5 255.5" fill="none" stroke="#000" stroke-width="1" stroke-linecap="square"/>
<path d="M26.5 323.5 V331.5 L25.5 332.5 H23.5 L22.5 331.5 V330.5" fill="none" stroke="#000" stroke-width="1" stroke-linecap="square"/>
<path d="M33.3 332.5 V323.5 L28.5 329.5 V330.5 H34.5" fill="none" stroke="#000" stroke-width="1" stroke-linecap="square"/>
<path d="M60.5 322.5 V330.5 L59.75 331.5 H58.25 L57.5 330.5 V329.5" fill="none" stroke="#000" stroke-width="1" stroke-linecap="square"/>
<path d="M69.5 322.5 H64.5 V326.5 H68.5 L69.5 327.5 V330.5 L68.5 331.5 H65.5 L64.5 330.5" fill="none" stroke="#000" stroke-width="1" stroke-linecap="square"/>
<path d="M98.5 289.5 V296.611 L97.75 297.5 H96.25 L95.5 296.611 V295.722" fill="none" stroke="#000" stroke-width="1" stroke-linecap="square"/>
<path d="M107.5 290.389 L106.5 289.5 H103.5 L102.5 290.389 V296.611 L103.5 297.5 H106.5 L107.5 296.611 V293.944 L106.5 293.056 H102.5" fill="none" stroke="#000" stroke-width="1" stroke-linecap="square"/>
<path d="M637.5 384.5 V391.611 L636.5 392.5 H634.5 L633.5 391.611 V390.722" fill="none" stroke="#000" stroke-width="1" stroke-linecap="square"/>
<path d="M640.5 384.5 H645.5 V385.389 L642.5 392.5" fill="none" stroke="#000" stroke-width="1" stroke-linecap="square"/>
<path d="M684.5 406.5 L685.5 412.5 L686.5 415.5 L687.5 412.5 L688.5 406.5 L689.5 412.5 L690.5 415.5 L691.5 412.5 L692.5 406.5" fill="none" stroke="#000" stroke-width="1" stroke-linecap="square"/>
<path d="M697.5 408.5 L699.5 406.5 V415.5 M704.5 407.5 L705.5 406.5 H708.5 L709.5 407.5 V409.5 L708.5 410.5 H706.5 M708.5 410.5 L709.5 411.5 V414.5 L708.5 415.5 H705.5 L704.5 414.5" fill="none" stroke="#000" stroke-width="1" stroke-linecap="square"/>
<path d="M459.5 429.5 L460.375 435.5 L461.25 438.5 L462.125 435.5 L463 429.5 L463.875 435.5 L464.75 438.5 L465.625 435.5 L466.5 429.5" fill="none" stroke="#000" stroke-width="1" stroke-linecap="square"/>
<path d="M471.5 437.5 L472.5 438.5 H475.5 L476.5 437.5 V430.5 L475.5 429.5 H472.5 L471.5 430.5 V433.5 L472.5 434.5 H476.5" fill="none" stroke="#000" stroke-width="1" stroke-linecap="square"/>
<path d="M492.5 429.5 L493.5 435.5 L494.5 438.5 L495.5 435.5 L496.5 429.5 L497.5 435.5 L498.5 438.5 L499.5 435.5 L500.5 429.5" fill="none" stroke="#000" stroke-width="1" stroke-linecap="square"/>
<path d="M506.5 431.5 L508.5 429.5 V438.5 M512.5 431.5 L514.5 429.5 V438.5" fill="none" stroke="#000" stroke-width="1" stroke-linecap="square"/>
<path d="M410.5 467.5 L411.5 473.5 L412.5 476.5 L413.5 473.5 L414.5 467.5 L415.5 473.5 L416.5 476.5 L417.5 473.5 L418.5 467.5" fill="none" stroke="#000" stroke-width="1" stroke-linecap="square"/>
<path d="M423.5 467.5 H426.5 L427.5 468.5 V470.5 L426.5 471.5 H423.5 L422.5 470.5 V468.5 Z M423.5 471.5 L422.5 472.5 V475.5 L423.5 476.5 H426.5 L427.5 475.5 V472.5 L426.5 471.5" fill="none" stroke="#000" stroke-width="1" stroke-linecap="square"/>
<path d="M525.5 500.5 L526.375 505.833 L527.25 508.5 L528.125 505.833 L529 500.5 L529.875 505.833 L530.75 508.5 L531.625 505.833 L532.5 500.5" fill="none" stroke="#000" stroke-width="1" stroke-linecap="square"/>
<path d="M538.5 502.278 L540.5 500.5 V508.5 M544.5 501.389 L545.5 500.5 H548.5 L549.5 501.389 V503.167 L544.5 507.611 V508.5 H549.5" fill="none" stroke="#000" stroke-width="1" stroke-linecap="square"/>
</g>
</svg>
</body></html>
